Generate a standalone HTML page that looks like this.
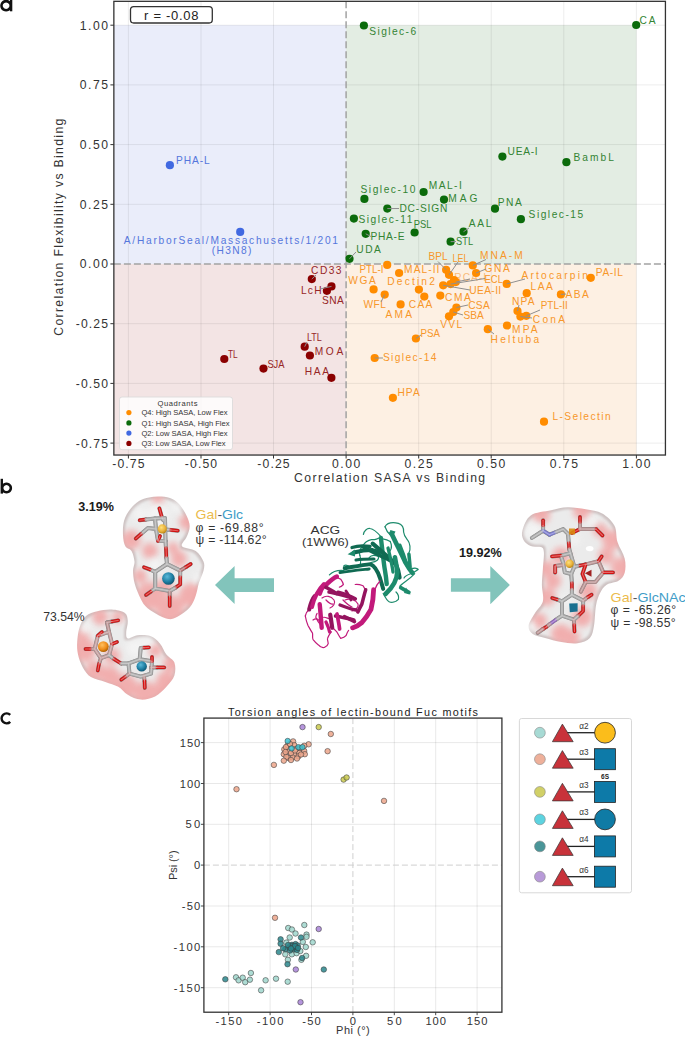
<!DOCTYPE html>
<html><head><meta charset="utf-8"><style>
html,body{margin:0;padding:0;background:#fff;width:685px;height:1038px;overflow:hidden}
svg{display:block}
text{font-family:"Liberation Sans",sans-serif}
</style></head><body>
<svg width="685" height="1038" viewBox="0 0 685 1038" font-family='"Liberation Sans", sans-serif'>
<rect width="685" height="1038" fill="#fff"/>
<rect x="113.86" y="25.20" width="232.24" height="238.80" fill="#eaedfa"/>
<rect x="346.10" y="25.20" width="290.30" height="238.80" fill="#e3ede3"/>
<rect x="113.86" y="264.00" width="232.24" height="191.04" fill="#f3e4e4"/>
<rect x="346.10" y="264.00" width="290.30" height="191.04" fill="#fdf0e3"/>
<line x1="128.4" y1="1.3" x2="128.4" y2="455.0" stroke="#000" stroke-width="0.9" stroke-opacity="0.085"/>
<line x1="113.9" y1="443.1" x2="665.4" y2="443.1" stroke="#000" stroke-width="0.9" stroke-opacity="0.085"/>
<line x1="201.0" y1="1.3" x2="201.0" y2="455.0" stroke="#000" stroke-width="0.9" stroke-opacity="0.085"/>
<line x1="113.9" y1="383.4" x2="665.4" y2="383.4" stroke="#000" stroke-width="0.9" stroke-opacity="0.085"/>
<line x1="273.5" y1="1.3" x2="273.5" y2="455.0" stroke="#000" stroke-width="0.9" stroke-opacity="0.085"/>
<line x1="113.9" y1="323.7" x2="665.4" y2="323.7" stroke="#000" stroke-width="0.9" stroke-opacity="0.085"/>
<line x1="418.7" y1="1.3" x2="418.7" y2="455.0" stroke="#000" stroke-width="0.9" stroke-opacity="0.085"/>
<line x1="113.9" y1="204.3" x2="665.4" y2="204.3" stroke="#000" stroke-width="0.9" stroke-opacity="0.085"/>
<line x1="491.2" y1="1.3" x2="491.2" y2="455.0" stroke="#000" stroke-width="0.9" stroke-opacity="0.085"/>
<line x1="113.9" y1="144.6" x2="665.4" y2="144.6" stroke="#000" stroke-width="0.9" stroke-opacity="0.085"/>
<line x1="563.8" y1="1.3" x2="563.8" y2="455.0" stroke="#000" stroke-width="0.9" stroke-opacity="0.085"/>
<line x1="113.9" y1="84.9" x2="665.4" y2="84.9" stroke="#000" stroke-width="0.9" stroke-opacity="0.085"/>
<line x1="636.4" y1="1.3" x2="636.4" y2="455.0" stroke="#000" stroke-width="0.9" stroke-opacity="0.085"/>
<line x1="113.9" y1="25.2" x2="665.4" y2="25.2" stroke="#000" stroke-width="0.9" stroke-opacity="0.085"/>
<line x1="346.1" y1="1.3" x2="346.1" y2="455.0" stroke="#a3a3a3" stroke-width="1.5" stroke-dasharray="7 3"/>
<line x1="113.9" y1="264.0" x2="665.4" y2="264.0" stroke="#a3a3a3" stroke-width="1.5" stroke-dasharray="7 3"/>
<text x="369.2" y="34.5" fill="#338433" font-size="10.2" textLength="46.9" lengthAdjust="spacing">Siglec-6</text>
<text x="639.5" y="23.8" fill="#338433" font-size="10.2" textLength="16.0" lengthAdjust="spacing">CA</text>
<text x="507.6" y="155.2" fill="#338433" font-size="10.2" textLength="30.1" lengthAdjust="spacing">UEA-I</text>
<text x="573.4" y="160.8" fill="#338433" font-size="10.2" textLength="40.6" lengthAdjust="spacing">BambL</text>
<text x="497.8" y="206.2" fill="#338433" font-size="10.2" textLength="24.0" lengthAdjust="spacing">PNA</text>
<text x="528.6" y="217.8" fill="#338433" font-size="10.2" textLength="54.6" lengthAdjust="spacing">Siglec-15</text>
<text x="360.5" y="192.5" fill="#338433" font-size="10.2" textLength="54.8" lengthAdjust="spacing">Siglec-10</text>
<text x="428.8" y="189.1" fill="#338433" font-size="10.2" textLength="33.0" lengthAdjust="spacing">MAL-I</text>
<text x="448.2" y="201.5" fill="#338433" font-size="10.2" textLength="29.3" lengthAdjust="spacing">MAG</text>
<text x="399.4" y="211.7" fill="#338433" font-size="10.2" textLength="47.9" lengthAdjust="spacing">DC-SIGN</text>
<text x="358.4" y="223.0" fill="#338433" font-size="10.2" textLength="54.0" lengthAdjust="spacing">Siglec-11</text>
<text x="370.5" y="240.1" fill="#338433" font-size="10.2" textLength="34.0" lengthAdjust="spacing">PHA-E</text>
<text x="413.8" y="227.8" fill="#338433" font-size="10.2" textLength="17.7" lengthAdjust="spacingAndGlyphs">PSL</text>
<text x="468.7" y="227.2" fill="#338433" font-size="10.2" textLength="22.8" lengthAdjust="spacing">AAL</text>
<text x="456.1" y="244.8" fill="#338433" font-size="10.2" textLength="17.0" lengthAdjust="spacingAndGlyphs">STL</text>
<text x="356.3" y="252.5" fill="#338433" font-size="10.2" textLength="24.5" lengthAdjust="spacing">UDA</text>
<circle cx="363.9" cy="25.5" r="4.1" fill="#0b6b0b"/>
<circle cx="636.2" cy="25.0" r="4.1" fill="#0b6b0b"/>
<circle cx="502.4" cy="156.6" r="4.1" fill="#0b6b0b"/>
<circle cx="566.4" cy="162.2" r="4.1" fill="#0b6b0b"/>
<circle cx="495.0" cy="208.7" r="4.1" fill="#0b6b0b"/>
<circle cx="520.9" cy="219.2" r="4.1" fill="#0b6b0b"/>
<circle cx="364.4" cy="198.9" r="4.1" fill="#0b6b0b"/>
<circle cx="423.6" cy="192.0" r="4.1" fill="#0b6b0b"/>
<circle cx="444.0" cy="199.6" r="4.1" fill="#0b6b0b"/>
<circle cx="387.3" cy="208.6" r="4.1" fill="#0b6b0b"/>
<circle cx="353.9" cy="218.6" r="4.1" fill="#0b6b0b"/>
<circle cx="365.7" cy="233.8" r="4.1" fill="#0b6b0b"/>
<circle cx="414.6" cy="232.5" r="4.1" fill="#0b6b0b"/>
<circle cx="463.5" cy="231.7" r="4.1" fill="#0b6b0b"/>
<circle cx="450.6" cy="241.7" r="4.1" fill="#0b6b0b"/>
<circle cx="349.5" cy="258.8" r="4.1" fill="#0b6b0b"/>
<text x="175.9" y="163.8" fill="#5576dc" font-size="10.2" textLength="33.8" lengthAdjust="spacing">PHA-L</text>
<text x="123.8" y="244.0" fill="#5576dc" font-size="10.2" textLength="214.2" lengthAdjust="spacing">A/HarborSeal/Massachusetts/1/201</text>
<text x="211.7" y="254.0" fill="#5576dc" font-size="10.2" textLength="39.6" lengthAdjust="spacing">(H3N8)</text>
<circle cx="169.9" cy="165.2" r="4.1" fill="#4169e1"/>
<circle cx="240.2" cy="231.9" r="4.1" fill="#4169e1"/>
<text x="311.1" y="274.0" fill="#972626" font-size="10.2" textLength="30.4" lengthAdjust="spacing">CD33</text>
<text x="300.9" y="294.4" fill="#972626" font-size="10.2" textLength="20.6" lengthAdjust="spacing">LcH</text>
<text x="322.0" y="303.9" fill="#972626" font-size="10.2" textLength="21.8" lengthAdjust="spacing">SNA</text>
<text x="228.0" y="357.7" fill="#972626" font-size="10.2" textLength="9.7" lengthAdjust="spacingAndGlyphs">TL</text>
<text x="267.4" y="367.5" fill="#972626" font-size="10.2" textLength="17.1" lengthAdjust="spacingAndGlyphs">SJA</text>
<text x="306.9" y="341.0" fill="#972626" font-size="10.2" textLength="14.9" lengthAdjust="spacingAndGlyphs">LTL</text>
<text x="314.7" y="355.0" fill="#972626" font-size="10.2" textLength="28.5" lengthAdjust="spacing">MOA</text>
<text x="304.7" y="374.7" fill="#972626" font-size="10.2" textLength="24.3" lengthAdjust="spacing">HAA</text>
<circle cx="311.8" cy="279.1" r="4.1" fill="#8b0000"/>
<circle cx="331.5" cy="286.4" r="4.1" fill="#8b0000"/>
<circle cx="326.9" cy="290.8" r="4.1" fill="#8b0000"/>
<circle cx="224.3" cy="359.0" r="4.1" fill="#8b0000"/>
<circle cx="263.5" cy="368.6" r="4.1" fill="#8b0000"/>
<circle cx="304.7" cy="346.7" r="4.1" fill="#8b0000"/>
<circle cx="309.9" cy="355.5" r="4.1" fill="#8b0000"/>
<circle cx="331.4" cy="377.8" r="4.1" fill="#8b0000"/>
<text x="359.6" y="273.4" fill="#f7972a" font-size="10.2" textLength="23.9" lengthAdjust="spacingAndGlyphs">PTL-I</text>
<text x="404.1" y="273.0" fill="#f7972a" font-size="10.2" textLength="35.3" lengthAdjust="spacing">MAL-II</text>
<text x="348.2" y="284.3" fill="#f7972a" font-size="10.2" textLength="27.7" lengthAdjust="spacing">WGA</text>
<text x="387.3" y="285.3" fill="#f7972a" font-size="10.2" textLength="47.5" lengthAdjust="spacing">Dectin2</text>
<text x="363.4" y="307.6" fill="#f7972a" font-size="10.2" textLength="22.5" lengthAdjust="spacing">WFL</text>
<text x="385.5" y="317.7" fill="#f7972a" font-size="10.2" textLength="26.6" lengthAdjust="spacing">AMA</text>
<text x="408.8" y="308.0" fill="#f7972a" font-size="10.2" textLength="23.6" lengthAdjust="spacing">CAA</text>
<text x="445.0" y="300.5" fill="#f7972a" font-size="10.2" textLength="25.9" lengthAdjust="spacing">CMA</text>
<text x="428.6" y="260.0" fill="#f7972a" font-size="10.2" textLength="19.0" lengthAdjust="spacingAndGlyphs">BPL</text>
<text x="452.6" y="261.7" fill="#f7972a" font-size="10.2" textLength="16.0" lengthAdjust="spacingAndGlyphs">LEL</text>
<text x="454.3" y="280.6" fill="#f9bb7a" font-size="10.2" textLength="31.9" lengthAdjust="spacing">RCA-I</text>
<text x="484.5" y="283.3" fill="#f7972a" font-size="10.2" textLength="18.4" lengthAdjust="spacingAndGlyphs">ECL</text>
<text x="469.3" y="293.5" fill="#f7972a" font-size="10.2" textLength="31.9" lengthAdjust="spacing">UEA-II</text>
<text x="479.9" y="259.0" fill="#f7972a" font-size="10.2" textLength="42.9" lengthAdjust="spacing">MNA-M</text>
<text x="484.5" y="271.6" fill="#f7972a" font-size="10.2" textLength="25.4" lengthAdjust="spacing">GNA</text>
<text x="521.4" y="278.6" fill="#f7972a" font-size="10.2" textLength="66.4" lengthAdjust="spacing">Artocarpin</text>
<text x="595.8" y="276.1" fill="#f7972a" font-size="10.2" textLength="27.1" lengthAdjust="spacing">PA-IL</text>
<text x="530.5" y="290.4" fill="#f7972a" font-size="10.2" textLength="22.2" lengthAdjust="spacing">LAA</text>
<text x="565.4" y="297.8" fill="#f7972a" font-size="10.2" textLength="23.3" lengthAdjust="spacing">ABA</text>
<text x="511.9" y="305.0" fill="#f7972a" font-size="10.2" textLength="22.7" lengthAdjust="spacing">NPA</text>
<text x="540.7" y="308.6" fill="#f7972a" font-size="10.2" textLength="27.1" lengthAdjust="spacingAndGlyphs">PTL-II</text>
<text x="532.8" y="322.6" fill="#f7972a" font-size="10.2" textLength="32.2" lengthAdjust="spacing">ConA</text>
<text x="468.2" y="308.9" fill="#f7972a" font-size="10.2" textLength="21.5" lengthAdjust="spacing">CSA</text>
<text x="463.5" y="319.2" fill="#f7972a" font-size="10.2" textLength="20.3" lengthAdjust="spacingAndGlyphs">SBA</text>
<text x="440.2" y="328.0" fill="#f7972a" font-size="10.2" textLength="21.9" lengthAdjust="spacing">VVL</text>
<text x="420.6" y="337.4" fill="#f7972a" font-size="10.2" textLength="19.5" lengthAdjust="spacingAndGlyphs">PSA</text>
<text x="490.6" y="343.2" fill="#f7972a" font-size="10.2" textLength="48.6" lengthAdjust="spacing">Heltuba</text>
<text x="512.1" y="333.4" fill="#f7972a" font-size="10.2" textLength="25.5" lengthAdjust="spacing">MPA</text>
<text x="382.9" y="361.0" fill="#f7972a" font-size="10.2" textLength="53.5" lengthAdjust="spacing">Siglec-14</text>
<text x="397.5" y="396.0" fill="#f7972a" font-size="10.2" textLength="22.2" lengthAdjust="spacing">HPA</text>
<text x="552.4" y="420.1" fill="#f7972a" font-size="10.2" textLength="58.2" lengthAdjust="spacing">L-Selectin</text>
<circle cx="387.2" cy="264.9" r="4.1" fill="#ff8c00"/>
<circle cx="399.1" cy="273.0" r="4.1" fill="#ff8c00"/>
<circle cx="373.6" cy="289.4" r="4.1" fill="#ff8c00"/>
<circle cx="418.9" cy="289.6" r="4.1" fill="#ff8c00"/>
<circle cx="384.7" cy="294.6" r="4.1" fill="#ff8c00"/>
<circle cx="400.6" cy="304.4" r="4.1" fill="#ff8c00"/>
<circle cx="424.3" cy="296.6" r="4.1" fill="#ff8c00"/>
<circle cx="440.3" cy="295.6" r="4.1" fill="#ff8c00"/>
<circle cx="446.1" cy="269.8" r="4.1" fill="#ff8c00"/>
<circle cx="449.0" cy="274.8" r="4.1" fill="#ff8c00"/>
<circle cx="455.8" cy="282.1" r="4.1" fill="#ff8c00"/>
<circle cx="454.0" cy="280.0" r="4.1" fill="#ff8c00"/>
<circle cx="450.6" cy="284.1" r="4.1" fill="#ff8c00"/>
<circle cx="443.2" cy="285.3" r="4.1" fill="#ff8c00"/>
<circle cx="472.8" cy="265.4" r="4.1" fill="#ff8c00"/>
<circle cx="476.1" cy="273.0" r="4.1" fill="#ff8c00"/>
<circle cx="506.7" cy="283.9" r="4.1" fill="#ff8c00"/>
<circle cx="590.8" cy="277.8" r="4.1" fill="#ff8c00"/>
<circle cx="526.7" cy="293.2" r="4.1" fill="#ff8c00"/>
<circle cx="560.9" cy="294.4" r="4.1" fill="#ff8c00"/>
<circle cx="517.5" cy="311.0" r="4.1" fill="#ff8c00"/>
<circle cx="526.3" cy="315.8" r="4.1" fill="#ff8c00"/>
<circle cx="520.4" cy="316.6" r="4.1" fill="#ff8c00"/>
<circle cx="456.4" cy="307.5" r="4.1" fill="#ff8c00"/>
<circle cx="453.3" cy="312.0" r="4.1" fill="#ff8c00"/>
<circle cx="449.0" cy="316.3" r="4.1" fill="#ff8c00"/>
<circle cx="415.9" cy="338.5" r="4.1" fill="#ff8c00"/>
<circle cx="487.8" cy="329.2" r="4.1" fill="#ff8c00"/>
<circle cx="507.0" cy="325.5" r="4.1" fill="#ff8c00"/>
<circle cx="374.7" cy="358.0" r="4.1" fill="#ff8c00"/>
<circle cx="392.9" cy="397.8" r="4.1" fill="#ff8c00"/>
<circle cx="544.0" cy="421.7" r="4.1" fill="#ff8c00"/>
<line x1="349.5" y1="258.8" x2="356.0" y2="252.0" stroke="#8f8f8f" stroke-width="1.0"/>
<line x1="387.3" y1="208.6" x2="399.0" y2="208.5" stroke="#8f8f8f" stroke-width="1.0"/>
<line x1="365.7" y1="233.8" x2="371.0" y2="236.5" stroke="#8f8f8f" stroke-width="1.0"/>
<line x1="463.5" y1="231.7" x2="469.0" y2="228.0" stroke="#8f8f8f" stroke-width="1.0"/>
<line x1="450.6" y1="241.7" x2="456.0" y2="241.5" stroke="#8f8f8f" stroke-width="1.0"/>
<line x1="374.7" y1="358.0" x2="383.0" y2="358.0" stroke="#8f8f8f" stroke-width="1.0"/>
<line x1="487.8" y1="329.2" x2="494.0" y2="334.0" stroke="#8f8f8f" stroke-width="1.0"/>
<line x1="446.1" y1="269.8" x2="438.0" y2="261.5" stroke="#8f8f8f" stroke-width="1.0"/>
<line x1="449.0" y1="274.8" x2="458.0" y2="262.0" stroke="#8f8f8f" stroke-width="1.0"/>
<line x1="455.8" y1="282.1" x2="470.0" y2="279.0" stroke="#8f8f8f" stroke-width="1.0"/>
<line x1="450.6" y1="284.1" x2="485.0" y2="278.5" stroke="#8f8f8f" stroke-width="1.0"/>
<line x1="443.2" y1="285.3" x2="470.0" y2="290.0" stroke="#8f8f8f" stroke-width="1.0"/>
<line x1="472.8" y1="265.4" x2="486.0" y2="259.5" stroke="#8f8f8f" stroke-width="1.0"/>
<line x1="476.1" y1="273.0" x2="486.0" y2="269.0" stroke="#8f8f8f" stroke-width="1.0"/>
<line x1="506.7" y1="283.9" x2="525.0" y2="279.0" stroke="#8f8f8f" stroke-width="1.0"/>
<line x1="456.4" y1="307.5" x2="468.0" y2="305.0" stroke="#8f8f8f" stroke-width="1.0"/>
<line x1="453.3" y1="312.0" x2="463.0" y2="315.0" stroke="#8f8f8f" stroke-width="1.0"/>
<line x1="526.3" y1="315.8" x2="540.0" y2="310.0" stroke="#8f8f8f" stroke-width="1.0"/>
<line x1="520.4" y1="316.6" x2="532.0" y2="318.0" stroke="#8f8f8f" stroke-width="1.0"/>
<line x1="517.5" y1="311.0" x2="519.0" y2="305.0" stroke="#8f8f8f" stroke-width="1.0"/>
<line x1="384.7" y1="294.6" x2="381.0" y2="302.0" stroke="#8f8f8f" stroke-width="1.0"/>
<line x1="311.8" y1="279.1" x2="316.0" y2="275.0" stroke="#8f8f8f" stroke-width="1.0"/>
<line x1="331.5" y1="286.4" x2="320.0" y2="289.0" stroke="#8f8f8f" stroke-width="1.0"/>
<line x1="304.7" y1="346.7" x2="307.0" y2="342.0" stroke="#8f8f8f" stroke-width="1.0"/>
<line x1="560.9" y1="294.4" x2="566.0" y2="294.0" stroke="#8f8f8f" stroke-width="1.0"/>
<line x1="415.9" y1="338.5" x2="421.0" y2="335.0" stroke="#8f8f8f" stroke-width="1.0"/>
<rect x="130.5" y="6.6" width="81.8" height="16.4" rx="3.2" fill="#fff" stroke="#333" stroke-width="1.3"/>
<text x="144.1" y="19.5" font-size="13" fill="#222" textLength="54.4" lengthAdjust="spacing">r = -0.08</text>
<rect x="119.5" y="397" width="113" height="52.7" rx="2.5" fill="#fff" fill-opacity="0.8" stroke="#d8d8d8" stroke-width="0.8"/>
<text x="157.4" y="405.6" font-size="7.6" fill="#333" textLength="40.2" lengthAdjust="spacing">Quadrants</text>
<circle cx="128.9" cy="412.6" r="2.6" fill="#ff8c00"/>
<text x="141.5" y="415.3" font-size="7.6" fill="#333" textLength="86" lengthAdjust="spacing">Q4: High SASA, Low Flex</text>
<circle cx="128.9" cy="422.9" r="2.6" fill="#0b6b0b"/>
<text x="141.5" y="425.6" font-size="7.6" fill="#333" textLength="88" lengthAdjust="spacing">Q1: High SASA, High Flex</text>
<circle cx="128.9" cy="433.1" r="2.6" fill="#4169e1"/>
<text x="141.5" y="435.8" font-size="7.6" fill="#333" textLength="86" lengthAdjust="spacing">Q2: Low SASA, High Flex</text>
<circle cx="128.9" cy="443.4" r="2.6" fill="#8b0000"/>
<text x="141.5" y="446.1" font-size="7.6" fill="#333" textLength="84" lengthAdjust="spacing">Q3: Low SASA, Low Flex</text>
<rect x="113.86" y="1.32" width="551.57" height="453.72" fill="none" stroke="#333" stroke-width="1.3"/>
<line x1="128.4" y1="455.0" x2="128.4" y2="458.5" stroke="#333" stroke-width="1.0"/>
<line x1="110.4" y1="443.1" x2="113.9" y2="443.1" stroke="#333" stroke-width="1.0"/>
<text x="128.4" y="468.4" font-size="12.2" fill="#333" text-anchor="middle" textLength="32.3" lengthAdjust="spacing">-0.75</text>
<text x="108.0" y="447.5" font-size="12.2" fill="#333" text-anchor="end" textLength="32.3" lengthAdjust="spacing">-0.75</text>
<line x1="201.0" y1="455.0" x2="201.0" y2="458.5" stroke="#333" stroke-width="1.0"/>
<line x1="110.4" y1="383.4" x2="113.9" y2="383.4" stroke="#333" stroke-width="1.0"/>
<text x="201.0" y="468.4" font-size="12.2" fill="#333" text-anchor="middle" textLength="32.3" lengthAdjust="spacing">-0.50</text>
<text x="108.0" y="387.8" font-size="12.2" fill="#333" text-anchor="end" textLength="32.3" lengthAdjust="spacing">-0.50</text>
<line x1="273.5" y1="455.0" x2="273.5" y2="458.5" stroke="#333" stroke-width="1.0"/>
<line x1="110.4" y1="323.7" x2="113.9" y2="323.7" stroke="#333" stroke-width="1.0"/>
<text x="273.5" y="468.4" font-size="12.2" fill="#333" text-anchor="middle" textLength="32.3" lengthAdjust="spacing">-0.25</text>
<text x="108.0" y="328.1" font-size="12.2" fill="#333" text-anchor="end" textLength="32.3" lengthAdjust="spacing">-0.25</text>
<line x1="346.1" y1="455.0" x2="346.1" y2="458.5" stroke="#333" stroke-width="1.0"/>
<line x1="110.4" y1="264.0" x2="113.9" y2="264.0" stroke="#333" stroke-width="1.0"/>
<text x="346.1" y="468.4" font-size="12.2" fill="#333" text-anchor="middle" textLength="28.3" lengthAdjust="spacing">0.00</text>
<text x="108.0" y="268.4" font-size="12.2" fill="#333" text-anchor="end" textLength="28.3" lengthAdjust="spacing">0.00</text>
<line x1="418.7" y1="455.0" x2="418.7" y2="458.5" stroke="#333" stroke-width="1.0"/>
<line x1="110.4" y1="204.3" x2="113.9" y2="204.3" stroke="#333" stroke-width="1.0"/>
<text x="418.7" y="468.4" font-size="12.2" fill="#333" text-anchor="middle" textLength="28.3" lengthAdjust="spacing">0.25</text>
<text x="108.0" y="208.7" font-size="12.2" fill="#333" text-anchor="end" textLength="28.3" lengthAdjust="spacing">0.25</text>
<line x1="491.2" y1="455.0" x2="491.2" y2="458.5" stroke="#333" stroke-width="1.0"/>
<line x1="110.4" y1="144.6" x2="113.9" y2="144.6" stroke="#333" stroke-width="1.0"/>
<text x="491.2" y="468.4" font-size="12.2" fill="#333" text-anchor="middle" textLength="28.3" lengthAdjust="spacing">0.50</text>
<text x="108.0" y="149.0" font-size="12.2" fill="#333" text-anchor="end" textLength="28.3" lengthAdjust="spacing">0.50</text>
<line x1="563.8" y1="455.0" x2="563.8" y2="458.5" stroke="#333" stroke-width="1.0"/>
<line x1="110.4" y1="84.9" x2="113.9" y2="84.9" stroke="#333" stroke-width="1.0"/>
<text x="563.8" y="468.4" font-size="12.2" fill="#333" text-anchor="middle" textLength="28.3" lengthAdjust="spacing">0.75</text>
<text x="108.0" y="89.3" font-size="12.2" fill="#333" text-anchor="end" textLength="28.3" lengthAdjust="spacing">0.75</text>
<line x1="636.4" y1="455.0" x2="636.4" y2="458.5" stroke="#333" stroke-width="1.0"/>
<line x1="110.4" y1="25.2" x2="113.9" y2="25.2" stroke="#333" stroke-width="1.0"/>
<text x="636.4" y="468.4" font-size="12.2" fill="#333" text-anchor="middle" textLength="28.3" lengthAdjust="spacing">1.00</text>
<text x="108.0" y="29.6" font-size="12.2" fill="#333" text-anchor="end" textLength="28.3" lengthAdjust="spacing">1.00</text>
<text x="389.6" y="482.2" font-size="12.2" fill="#333" text-anchor="middle" textLength="191" lengthAdjust="spacing">Correlation SASA vs Binding</text>
<text transform="translate(63.2,227.2) rotate(-90)" x="0" y="0" font-size="12.2" fill="#333" text-anchor="middle" textLength="217" lengthAdjust="spacing">Correlation Flexibility vs Binding</text>
<g fill="#111"><path d="M6.1,-0.2 a5.9,5.9 0 1 0 0.01,0 z M6.1,2.4 a3.3,3.3 0 1 1 -0.01,0 z" fill-rule="evenodd"/><rect x="10.0" y="-1" width="2.3" height="12.3"/></g>
<g fill="#111"><rect x="0.6" y="478.8" width="2.4" height="14.8"/><path d="M6.5,482.4 a5.6,5.6 0 1 0 0.01,0 z M6.5,485 a3,3 0 1 1 -0.01,0 z" fill-rule="evenodd"/></g>
<path d="M10.2,714.9 A5,5 0 1 0 10.2,721.8" fill="none" stroke="#111" stroke-width="2.4"/>
<defs><filter id="bl3" x="-30%" y="-30%" width="160%" height="160%"><feGaussianBlur stdDeviation="3"/></filter><filter id="bl2" x="-30%" y="-30%" width="160%" height="160%"><feGaussianBlur stdDeviation="2"/></filter><filter id="ins" x="-30%" y="-30%" width="160%" height="160%"><feMorphology operator="erode" radius="2.2"/><feGaussianBlur stdDeviation="1.3"/></filter><filter id="bl1" x="-30%" y="-30%" width="160%" height="160%"><feGaussianBlur stdDeviation="0.7"/></filter><radialGradient id="gold" cx="0.4" cy="0.35" r="0.7"><stop offset="0" stop-color="#ffe07a"/><stop offset="0.6" stop-color="#e9b23a"/><stop offset="1" stop-color="#b07d10"/></radialGradient><radialGradient id="orng" cx="0.4" cy="0.35" r="0.7"><stop offset="0" stop-color="#ffc060"/><stop offset="0.6" stop-color="#ee8c1a"/><stop offset="1" stop-color="#a05a00"/></radialGradient><radialGradient id="teal" cx="0.4" cy="0.35" r="0.7"><stop offset="0" stop-color="#5ab8d8"/><stop offset="0.6" stop-color="#1f7fa3"/><stop offset="1" stop-color="#0e4f6a"/></radialGradient></defs>
<mask id="msk1" maskUnits="userSpaceOnUse" x="117" y="490.5" width="92.5" height="134.60000000000002"><path d="M159.0,496.5 C162.5,496.6 166.7,496.8 170.0,498.0 C173.3,499.2 176.2,501.1 179.0,504.0 C181.8,506.9 184.8,512.0 186.6,515.7 C188.4,519.4 189.7,522.8 189.7,526.4 C189.7,530.0 187.9,533.8 186.6,537.1 C185.3,540.4 180.5,544.0 182.0,546.3 C183.5,548.6 192.2,548.5 195.8,551.0 C199.4,553.5 202.2,558.3 203.5,561.6 C204.8,564.9 204.3,567.2 203.5,570.8 C202.7,574.4 200.2,579.0 198.9,583.1 C197.6,587.2 197.3,591.3 195.8,595.4 C194.3,599.5 192.8,604.0 189.7,607.6 C186.6,611.2 181.0,614.9 177.4,616.8 C173.8,618.7 171.8,619.6 168.2,619.1 C164.6,618.6 159.8,616.0 156.0,613.8 C152.2,611.6 148.1,609.2 145.3,606.1 C142.5,603.0 140.9,599.2 139.1,595.4 C137.3,591.6 135.5,587.2 134.5,583.1 C133.5,579.0 133.0,574.4 133.0,570.8 C133.0,567.2 134.8,564.9 134.5,561.6 C134.2,558.3 133.0,553.5 131.5,551.0 C130.0,548.5 126.7,548.9 125.3,546.3 C123.9,543.7 123.2,539.8 123.0,535.6 C122.8,531.4 122.8,525.4 124.0,521.0 C125.2,516.6 127.5,512.8 130.0,509.5 C132.5,506.2 135.8,503.0 139.0,501.0 C142.2,499.0 145.7,498.2 149.0,497.5 C152.3,496.8 155.5,496.4 159.0,496.5Z" fill="#fff" filter="url(#bl1)"/></mask><g mask="url(#msk1)"><rect x="117" y="490.5" width="92.5" height="134.60000000000002" fill="#cdc2c2"/><path d="M159.0,496.5 C162.5,496.6 166.7,496.8 170.0,498.0 C173.3,499.2 176.2,501.1 179.0,504.0 C181.8,506.9 184.8,512.0 186.6,515.7 C188.4,519.4 189.7,522.8 189.7,526.4 C189.7,530.0 187.9,533.8 186.6,537.1 C185.3,540.4 180.5,544.0 182.0,546.3 C183.5,548.6 192.2,548.5 195.8,551.0 C199.4,553.5 202.2,558.3 203.5,561.6 C204.8,564.9 204.3,567.2 203.5,570.8 C202.7,574.4 200.2,579.0 198.9,583.1 C197.6,587.2 197.3,591.3 195.8,595.4 C194.3,599.5 192.8,604.0 189.7,607.6 C186.6,611.2 181.0,614.9 177.4,616.8 C173.8,618.7 171.8,619.6 168.2,619.1 C164.6,618.6 159.8,616.0 156.0,613.8 C152.2,611.6 148.1,609.2 145.3,606.1 C142.5,603.0 140.9,599.2 139.1,595.4 C137.3,591.6 135.5,587.2 134.5,583.1 C133.5,579.0 133.0,574.4 133.0,570.8 C133.0,567.2 134.8,564.9 134.5,561.6 C134.2,558.3 133.0,553.5 131.5,551.0 C130.0,548.5 126.7,548.9 125.3,546.3 C123.9,543.7 123.2,539.8 123.0,535.6 C122.8,531.4 122.8,525.4 124.0,521.0 C125.2,516.6 127.5,512.8 130.0,509.5 C132.5,506.2 135.8,503.0 139.0,501.0 C142.2,499.0 145.7,498.2 149.0,497.5 C152.3,496.8 155.5,496.4 159.0,496.5Z" fill="#ebebeb" filter="url(#ins)"/><g filter="url(#bl3)" opacity="0.9"><circle cx="131" cy="540" r="10" fill="#f2a8a8"/><circle cx="150" cy="551" r="8" fill="#f2a8a8"/><circle cx="187" cy="522" r="8" fill="#f2a8a8"/><circle cx="158" cy="499" r="6" fill="#f2a8a8"/><circle cx="173" cy="548" r="6" fill="#f2a8a8"/><circle cx="150" cy="596" r="14" fill="#f2a8a8"/><circle cx="170" cy="609" r="14" fill="#f2a8a8"/><circle cx="191" cy="595" r="12" fill="#f2a8a8"/><circle cx="179" cy="559" r="8" fill="#f2a8a8"/><circle cx="140" cy="576" r="7" fill="#f2a8a8"/><circle cx="165" cy="586" r="8" fill="#f2a8a8"/></g><g filter="url(#bl3)" opacity="0.9"><circle cx="158" cy="515" r="11" fill="#f4f4f4"/><circle cx="140" cy="514" r="7" fill="#f4f4f4"/><circle cx="177" cy="507" r="6" fill="#f4f4f4"/><circle cx="155" cy="565" r="7" fill="#f4f4f4"/><circle cx="198" cy="578" r="5" fill="#f4f4f4"/></g></g>
<g stroke-linecap="round" stroke-linejoin="round" fill="none"><path d="M159.4,508.4 L162,517.6" stroke="#808080" stroke-width="4.0"/><path d="M162,517.6 L163.4,520.2" stroke="#808080" stroke-width="4.0"/><path d="M139.7,520.2 L146,519.5" stroke="#808080" stroke-width="4.0"/><path d="M146,519.5 L155,518.5 L165,518 L165.5,541" stroke="#808080" stroke-width="4.0"/><path d="M155,518.5 L156,529 L158,541 L165.5,541" stroke="#808080" stroke-width="4.0"/><path d="M156,529 L148,528 L141,534" stroke="#808080" stroke-width="4.0"/><path d="M141,534 L135.8,538.6" stroke="#808080" stroke-width="4.0"/><path d="M165.5,529.4 L171,530" stroke="#808080" stroke-width="4.0"/><path d="M171,530 L177.8,530.7" stroke="#808080" stroke-width="4.0"/><path d="M158,541 L160,536" stroke="#808080" stroke-width="4.0"/><path d="M165.5,541 L166,548" stroke="#808080" stroke-width="4.0"/><path d="M166,548 L166.4,558" stroke="#808080" stroke-width="4.0"/><path d="M166.4,558 L167,564" stroke="#808080" stroke-width="4.0"/><path d="M167,564 L180.2,570.6 L180.2,577" stroke="#808080" stroke-width="4.0"/><path d="M180.2,577 L180.2,584.4 L175,588" stroke="#808080" stroke-width="4.0"/><path d="M175,588 L169.7,591 L155.2,588.4 L155.2,571.9 L167,564" stroke="#808080" stroke-width="4.0"/><path d="M180.2,570.6 L186,567" stroke="#808080" stroke-width="4.0"/><path d="M186,567 L190.7,564" stroke="#808080" stroke-width="4.0"/><path d="M155.2,571.9 L150,569.5" stroke="#808080" stroke-width="4.0"/><path d="M150,569.5 L144,567.3" stroke="#808080" stroke-width="4.0"/><path d="M155.2,588.4 L151,591.5" stroke="#808080" stroke-width="4.0"/><path d="M151,591.5 L146,595" stroke="#808080" stroke-width="4.0"/><path d="M169.7,591 L169.7,597" stroke="#808080" stroke-width="4.0"/><path d="M169.7,597 L169.7,606" stroke="#808080" stroke-width="4.0"/><path d="M159.4,508.4 L162,517.6" stroke="#d40f0f" stroke-width="3.3"/><path d="M162,517.6 L163.4,520.2" stroke="#a9a9a9" stroke-width="3.3"/><path d="M139.7,520.2 L146,519.5" stroke="#d40f0f" stroke-width="3.3"/><path d="M146,519.5 L155,518.5 L165,518 L165.5,541" stroke="#a9a9a9" stroke-width="3.3"/><path d="M155,518.5 L156,529 L158,541 L165.5,541" stroke="#a9a9a9" stroke-width="3.3"/><path d="M156,529 L148,528 L141,534" stroke="#a9a9a9" stroke-width="3.3"/><path d="M141,534 L135.8,538.6" stroke="#d40f0f" stroke-width="3.3"/><path d="M165.5,529.4 L171,530" stroke="#a9a9a9" stroke-width="3.3"/><path d="M171,530 L177.8,530.7" stroke="#d40f0f" stroke-width="3.3"/><path d="M158,541 L160,536" stroke="#d40f0f" stroke-width="3.3"/><path d="M165.5,541 L166,548" stroke="#a9a9a9" stroke-width="3.3"/><path d="M166,548 L166.4,558" stroke="#d40f0f" stroke-width="3.3"/><path d="M166.4,558 L167,564" stroke="#a9a9a9" stroke-width="3.3"/><path d="M167,564 L180.2,570.6 L180.2,577" stroke="#a9a9a9" stroke-width="3.3"/><path d="M180.2,577 L180.2,584.4 L175,588" stroke="#d40f0f" stroke-width="3.3"/><path d="M175,588 L169.7,591 L155.2,588.4 L155.2,571.9 L167,564" stroke="#a9a9a9" stroke-width="3.3"/><path d="M180.2,570.6 L186,567" stroke="#b07070" stroke-width="3.3"/><path d="M186,567 L190.7,564" stroke="#d40f0f" stroke-width="3.3"/><path d="M155.2,571.9 L150,569.5" stroke="#a9a9a9" stroke-width="3.3"/><path d="M150,569.5 L144,567.3" stroke="#d40f0f" stroke-width="3.3"/><path d="M155.2,588.4 L151,591.5" stroke="#a9a9a9" stroke-width="3.3"/><path d="M151,591.5 L146,595" stroke="#d40f0f" stroke-width="3.3"/><path d="M169.7,591 L169.7,597" stroke="#b08888" stroke-width="3.3"/><path d="M169.7,597 L169.7,606" stroke="#d40f0f" stroke-width="3.3"/><path d="M159.4,508.4 L162,517.6" stroke="#e77b7b" stroke-width="1.15" stroke-opacity="0.8"/><path d="M162,517.6 L163.4,520.2" stroke="#cfcfcf" stroke-width="1.15" stroke-opacity="0.8"/><path d="M139.7,520.2 L146,519.5" stroke="#e77b7b" stroke-width="1.15" stroke-opacity="0.8"/><path d="M146,519.5 L155,518.5 L165,518 L165.5,541" stroke="#cfcfcf" stroke-width="1.15" stroke-opacity="0.8"/><path d="M155,518.5 L156,529 L158,541 L165.5,541" stroke="#cfcfcf" stroke-width="1.15" stroke-opacity="0.8"/><path d="M156,529 L148,528 L141,534" stroke="#cfcfcf" stroke-width="1.15" stroke-opacity="0.8"/><path d="M141,534 L135.8,538.6" stroke="#e77b7b" stroke-width="1.15" stroke-opacity="0.8"/><path d="M165.5,529.4 L171,530" stroke="#cfcfcf" stroke-width="1.15" stroke-opacity="0.8"/><path d="M171,530 L177.8,530.7" stroke="#e77b7b" stroke-width="1.15" stroke-opacity="0.8"/><path d="M158,541 L160,536" stroke="#e77b7b" stroke-width="1.15" stroke-opacity="0.8"/><path d="M165.5,541 L166,548" stroke="#cfcfcf" stroke-width="1.15" stroke-opacity="0.8"/><path d="M166,548 L166.4,558" stroke="#e77b7b" stroke-width="1.15" stroke-opacity="0.8"/><path d="M166.4,558 L167,564" stroke="#cfcfcf" stroke-width="1.15" stroke-opacity="0.8"/><path d="M167,564 L180.2,570.6 L180.2,577" stroke="#cfcfcf" stroke-width="1.15" stroke-opacity="0.8"/><path d="M180.2,577 L180.2,584.4 L175,588" stroke="#e77b7b" stroke-width="1.15" stroke-opacity="0.8"/><path d="M175,588 L169.7,591 L155.2,588.4 L155.2,571.9 L167,564" stroke="#cfcfcf" stroke-width="1.15" stroke-opacity="0.8"/><path d="M180.2,570.6 L186,567" stroke="#d3b0b0" stroke-width="1.15" stroke-opacity="0.8"/><path d="M186,567 L190.7,564" stroke="#e77b7b" stroke-width="1.15" stroke-opacity="0.8"/><path d="M155.2,571.9 L150,569.5" stroke="#cfcfcf" stroke-width="1.15" stroke-opacity="0.8"/><path d="M150,569.5 L144,567.3" stroke="#e77b7b" stroke-width="1.15" stroke-opacity="0.8"/><path d="M155.2,588.4 L151,591.5" stroke="#cfcfcf" stroke-width="1.15" stroke-opacity="0.8"/><path d="M151,591.5 L146,595" stroke="#e77b7b" stroke-width="1.15" stroke-opacity="0.8"/><path d="M169.7,591 L169.7,597" stroke="#d3bdbd" stroke-width="1.15" stroke-opacity="0.8"/><path d="M169.7,597 L169.7,606" stroke="#e77b7b" stroke-width="1.15" stroke-opacity="0.8"/></g>
<circle cx="162.3" cy="528.9" r="4.6" fill="url(#gold)"/>
<circle cx="168.4" cy="578.5" r="6.3" fill="url(#teal)"/>
<mask id="msk2" maskUnits="userSpaceOnUse" x="71.2" y="603.6" width="109.2" height="102.0"><path d="M86.0,616.0 C89.0,613.3 93.0,612.3 97.3,611.2 C101.6,610.1 107.2,609.3 111.8,609.6 C116.3,609.9 121.9,610.9 124.6,612.8 C127.3,614.7 127.5,617.7 127.8,620.9 C128.1,624.1 126.2,629.2 126.2,632.1 C126.2,635.0 125.9,638.0 127.8,638.5 C129.7,639.0 133.7,635.7 137.4,635.3 C141.2,634.9 146.6,634.8 150.3,636.1 C154.1,637.5 157.2,640.3 159.9,643.4 C162.6,646.5 164.0,651.4 166.4,654.6 C168.8,657.8 173.1,659.1 174.4,662.6 C175.7,666.1 175.7,671.5 174.4,675.5 C173.1,679.5 169.6,683.2 166.4,686.7 C163.2,690.2 159.4,694.2 155.1,696.4 C150.8,698.5 145.2,699.9 140.7,699.6 C136.1,699.3 131.5,696.9 127.8,694.7 C124.0,692.6 122.0,688.8 118.2,686.7 C114.5,684.6 109.8,683.5 105.3,681.9 C100.8,680.3 94.7,679.5 90.9,677.1 C87.2,674.7 85.0,671.1 82.8,667.4 C80.6,663.6 78.9,658.9 78.0,654.6 C77.1,650.3 76.9,646.3 77.2,641.8 C77.5,637.2 78.1,631.6 79.6,627.3 C81.1,623.0 83.0,618.7 86.0,616.0Z" fill="#fff" filter="url(#bl1)"/></mask><g mask="url(#msk2)"><rect x="71.2" y="603.6" width="109.2" height="102.0" fill="#cdc2c2"/><path d="M86.0,616.0 C89.0,613.3 93.0,612.3 97.3,611.2 C101.6,610.1 107.2,609.3 111.8,609.6 C116.3,609.9 121.9,610.9 124.6,612.8 C127.3,614.7 127.5,617.7 127.8,620.9 C128.1,624.1 126.2,629.2 126.2,632.1 C126.2,635.0 125.9,638.0 127.8,638.5 C129.7,639.0 133.7,635.7 137.4,635.3 C141.2,634.9 146.6,634.8 150.3,636.1 C154.1,637.5 157.2,640.3 159.9,643.4 C162.6,646.5 164.0,651.4 166.4,654.6 C168.8,657.8 173.1,659.1 174.4,662.6 C175.7,666.1 175.7,671.5 174.4,675.5 C173.1,679.5 169.6,683.2 166.4,686.7 C163.2,690.2 159.4,694.2 155.1,696.4 C150.8,698.5 145.2,699.9 140.7,699.6 C136.1,699.3 131.5,696.9 127.8,694.7 C124.0,692.6 122.0,688.8 118.2,686.7 C114.5,684.6 109.8,683.5 105.3,681.9 C100.8,680.3 94.7,679.5 90.9,677.1 C87.2,674.7 85.0,671.1 82.8,667.4 C80.6,663.6 78.9,658.9 78.0,654.6 C77.1,650.3 76.9,646.3 77.2,641.8 C77.5,637.2 78.1,631.6 79.6,627.3 C81.1,623.0 83.0,618.7 86.0,616.0Z" fill="#ebebeb" filter="url(#ins)"/><g filter="url(#bl3)" opacity="0.9"><circle cx="84" cy="650" r="12" fill="#f2a8a8"/><circle cx="95" cy="671" r="10" fill="#f2a8a8"/><circle cx="110" cy="676" r="10" fill="#f2a8a8"/><circle cx="125" cy="686" r="12" fill="#f2a8a8"/><circle cx="145" cy="693" r="12" fill="#f2a8a8"/><circle cx="166" cy="681" r="10" fill="#f2a8a8"/><circle cx="171" cy="664" r="8" fill="#f2a8a8"/><circle cx="100" cy="617" r="8" fill="#f2a8a8"/><circle cx="118" cy="617" r="6" fill="#f2a8a8"/><circle cx="112" cy="656" r="8" fill="#f2a8a8"/><circle cx="82" cy="635" r="7" fill="#f2a8a8"/><circle cx="155" cy="650" r="7" fill="#f2a8a8"/><circle cx="160" cy="690" r="8" fill="#f2a8a8"/></g><g filter="url(#bl3)" opacity="0.9"><circle cx="135" cy="648" r="9" fill="#f4f4f4"/><circle cx="148" cy="642" r="6" fill="#f4f4f4"/><circle cx="86" cy="628" r="6" fill="#f4f4f4"/></g></g>
<g stroke-linecap="round" stroke-linejoin="round" fill="none"><path d="M107,622.5 L112,621.5" stroke="#808080" stroke-width="4.0"/><path d="M112,621.5 L118.2,620.4" stroke="#808080" stroke-width="4.0"/><path d="M97.8,635.8 L109,631.7 L112.1,644 L109,655.2 L100.9,658.2 L94.7,649 L97.8,635.8" stroke="#808080" stroke-width="4.0"/><path d="M109,631.7 L107,622.5" stroke="#808080" stroke-width="4.0"/><path d="M94.7,649 L90,649" stroke="#808080" stroke-width="4.0"/><path d="M90,649 L85.5,649" stroke="#808080" stroke-width="4.0"/><path d="M100.9,658.2 L99,664" stroke="#808080" stroke-width="4.0"/><path d="M99,664 L97.8,670.5" stroke="#808080" stroke-width="4.0"/><path d="M109,655.2 L114,659" stroke="#808080" stroke-width="4.0"/><path d="M114,659 L121,663.4" stroke="#808080" stroke-width="4.0"/><path d="M121,663.4 L128.5,663.4" stroke="#808080" stroke-width="4.0"/><path d="M128.5,663.4 L139.7,659.3 L152,661.3 L151,673.6 L140.7,676.6 L129.5,673.6 L128.5,663.4" stroke="#808080" stroke-width="4.0"/><path d="M139.7,659.3 L140.7,648 L144,647.7" stroke="#808080" stroke-width="4.0"/><path d="M144,647.7 L148.9,647.4" stroke="#808080" stroke-width="4.0"/><path d="M152,661.3 L152,657" stroke="#808080" stroke-width="4.0"/><path d="M151,667.4 L157,667.4" stroke="#808080" stroke-width="4.0"/><path d="M157,667.4 L164.2,667.4" stroke="#808080" stroke-width="4.0"/><path d="M129.5,673.6 L125,677" stroke="#808080" stroke-width="4.0"/><path d="M125,677 L121.3,679.7" stroke="#808080" stroke-width="4.0"/><path d="M144,676 L144.5,681" stroke="#808080" stroke-width="4.0"/><path d="M144.5,681 L144.8,687.9" stroke="#808080" stroke-width="4.0"/><path d="M112.1,644 L117,642" stroke="#808080" stroke-width="4.0"/><path d="M97.8,635.8 L102,632" stroke="#808080" stroke-width="4.0"/><path d="M107,622.5 L112,621.5" stroke="#b89090" stroke-width="3.3"/><path d="M112,621.5 L118.2,620.4" stroke="#d40f0f" stroke-width="3.3"/><path d="M97.8,635.8 L109,631.7 L112.1,644 L109,655.2 L100.9,658.2 L94.7,649 L97.8,635.8" stroke="#c09a9a" stroke-width="3.3"/><path d="M109,631.7 L107,622.5" stroke="#b89090" stroke-width="3.3"/><path d="M94.7,649 L90,649" stroke="#b89090" stroke-width="3.3"/><path d="M90,649 L85.5,649" stroke="#d40f0f" stroke-width="3.3"/><path d="M100.9,658.2 L99,664" stroke="#b89090" stroke-width="3.3"/><path d="M99,664 L97.8,670.5" stroke="#d40f0f" stroke-width="3.3"/><path d="M109,655.2 L114,659" stroke="#a9a9a9" stroke-width="3.3"/><path d="M114,659 L121,663.4" stroke="#d40f0f" stroke-width="3.3"/><path d="M121,663.4 L128.5,663.4" stroke="#a9a9a9" stroke-width="3.3"/><path d="M128.5,663.4 L139.7,659.3 L152,661.3 L151,673.6 L140.7,676.6 L129.5,673.6 L128.5,663.4" stroke="#a9a9a9" stroke-width="3.3"/><path d="M139.7,659.3 L140.7,648 L144,647.7" stroke="#a9a9a9" stroke-width="3.3"/><path d="M144,647.7 L148.9,647.4" stroke="#d40f0f" stroke-width="3.3"/><path d="M152,661.3 L152,657" stroke="#d40f0f" stroke-width="3.3"/><path d="M151,667.4 L157,667.4" stroke="#b89090" stroke-width="3.3"/><path d="M157,667.4 L164.2,667.4" stroke="#d40f0f" stroke-width="3.3"/><path d="M129.5,673.6 L125,677" stroke="#b89090" stroke-width="3.3"/><path d="M125,677 L121.3,679.7" stroke="#d40f0f" stroke-width="3.3"/><path d="M144,676 L144.5,681" stroke="#b89090" stroke-width="3.3"/><path d="M144.5,681 L144.8,687.9" stroke="#d40f0f" stroke-width="3.3"/><path d="M112.1,644 L117,642" stroke="#d40f0f" stroke-width="3.3"/><path d="M97.8,635.8 L102,632" stroke="#d40f0f" stroke-width="3.3"/><path d="M107,622.5 L112,621.5" stroke="#d7c1c1" stroke-width="1.15" stroke-opacity="0.8"/><path d="M112,621.5 L118.2,620.4" stroke="#e77b7b" stroke-width="1.15" stroke-opacity="0.8"/><path d="M97.8,635.8 L109,631.7 L112.1,644 L109,655.2 L100.9,658.2 L94.7,649 L97.8,635.8" stroke="#dcc7c7" stroke-width="1.15" stroke-opacity="0.8"/><path d="M109,631.7 L107,622.5" stroke="#d7c1c1" stroke-width="1.15" stroke-opacity="0.8"/><path d="M94.7,649 L90,649" stroke="#d7c1c1" stroke-width="1.15" stroke-opacity="0.8"/><path d="M90,649 L85.5,649" stroke="#e77b7b" stroke-width="1.15" stroke-opacity="0.8"/><path d="M100.9,658.2 L99,664" stroke="#d7c1c1" stroke-width="1.15" stroke-opacity="0.8"/><path d="M99,664 L97.8,670.5" stroke="#e77b7b" stroke-width="1.15" stroke-opacity="0.8"/><path d="M109,655.2 L114,659" stroke="#cfcfcf" stroke-width="1.15" stroke-opacity="0.8"/><path d="M114,659 L121,663.4" stroke="#e77b7b" stroke-width="1.15" stroke-opacity="0.8"/><path d="M121,663.4 L128.5,663.4" stroke="#cfcfcf" stroke-width="1.15" stroke-opacity="0.8"/><path d="M128.5,663.4 L139.7,659.3 L152,661.3 L151,673.6 L140.7,676.6 L129.5,673.6 L128.5,663.4" stroke="#cfcfcf" stroke-width="1.15" stroke-opacity="0.8"/><path d="M139.7,659.3 L140.7,648 L144,647.7" stroke="#cfcfcf" stroke-width="1.15" stroke-opacity="0.8"/><path d="M144,647.7 L148.9,647.4" stroke="#e77b7b" stroke-width="1.15" stroke-opacity="0.8"/><path d="M152,661.3 L152,657" stroke="#e77b7b" stroke-width="1.15" stroke-opacity="0.8"/><path d="M151,667.4 L157,667.4" stroke="#d7c1c1" stroke-width="1.15" stroke-opacity="0.8"/><path d="M157,667.4 L164.2,667.4" stroke="#e77b7b" stroke-width="1.15" stroke-opacity="0.8"/><path d="M129.5,673.6 L125,677" stroke="#d7c1c1" stroke-width="1.15" stroke-opacity="0.8"/><path d="M125,677 L121.3,679.7" stroke="#e77b7b" stroke-width="1.15" stroke-opacity="0.8"/><path d="M144,676 L144.5,681" stroke="#d7c1c1" stroke-width="1.15" stroke-opacity="0.8"/><path d="M144.5,681 L144.8,687.9" stroke="#e77b7b" stroke-width="1.15" stroke-opacity="0.8"/><path d="M112.1,644 L117,642" stroke="#e77b7b" stroke-width="1.15" stroke-opacity="0.8"/><path d="M97.8,635.8 L102,632" stroke="#e77b7b" stroke-width="1.15" stroke-opacity="0.8"/></g>
<circle cx="103.3" cy="646.6" r="5.4" fill="url(#orng)"/>
<circle cx="141.7" cy="666.4" r="5.2" fill="url(#teal)"/>
<mask id="msk3" maskUnits="userSpaceOnUse" x="516.5" y="501.3" width="114.20000000000005" height="147.90000000000003"><path d="M522.5,530.0 C523.7,525.9 526.0,518.7 530.7,515.4 C535.5,512.1 544.9,511.6 551.0,510.3 C557.1,509.0 561.6,507.5 567.4,507.3 C573.2,507.1 580.0,508.3 585.8,509.3 C591.6,510.3 597.4,510.7 602.2,513.4 C607.0,516.1 612.0,520.9 614.5,525.7 C617.0,530.5 615.8,536.5 617.5,542.0 C619.2,547.5 623.5,553.3 624.7,558.4 C625.9,563.5 625.7,569.0 624.7,572.7 C623.7,576.4 621.6,578.8 618.5,580.8 C615.4,582.8 609.4,582.8 606.3,584.9 C603.2,587.0 601.8,589.7 600.1,593.1 C598.4,596.5 597.0,600.0 596.0,605.4 C595.0,610.8 595.0,620.4 594.0,625.8 C593.0,631.2 592.6,635.1 589.9,638.0 C587.2,640.9 582.5,642.5 577.7,643.2 C572.9,643.9 566.8,643.0 561.3,642.1 C555.8,641.2 549.8,639.4 545.0,638.0 C540.2,636.6 535.4,636.0 532.7,634.0 C530.0,632.0 528.3,629.2 528.6,625.8 C528.9,622.4 532.3,617.6 534.7,613.5 C537.1,609.4 541.7,606.1 542.9,601.3 C544.1,596.5 541.9,590.3 541.9,584.9 C541.9,579.5 542.6,574.0 542.9,568.6 C543.2,563.2 544.2,555.8 543.9,552.2 C543.6,548.6 543.1,548.1 540.9,547.1 C538.7,546.1 533.6,547.3 530.7,546.1 C527.8,544.9 524.9,542.7 523.5,540.0 C522.1,537.3 521.3,534.1 522.5,530.0Z" fill="#fff" filter="url(#bl1)"/></mask><g mask="url(#msk3)"><rect x="516.5" y="501.3" width="114.20000000000005" height="147.90000000000003" fill="#cdc2c2"/><path d="M522.5,530.0 C523.7,525.9 526.0,518.7 530.7,515.4 C535.5,512.1 544.9,511.6 551.0,510.3 C557.1,509.0 561.6,507.5 567.4,507.3 C573.2,507.1 580.0,508.3 585.8,509.3 C591.6,510.3 597.4,510.7 602.2,513.4 C607.0,516.1 612.0,520.9 614.5,525.7 C617.0,530.5 615.8,536.5 617.5,542.0 C619.2,547.5 623.5,553.3 624.7,558.4 C625.9,563.5 625.7,569.0 624.7,572.7 C623.7,576.4 621.6,578.8 618.5,580.8 C615.4,582.8 609.4,582.8 606.3,584.9 C603.2,587.0 601.8,589.7 600.1,593.1 C598.4,596.5 597.0,600.0 596.0,605.4 C595.0,610.8 595.0,620.4 594.0,625.8 C593.0,631.2 592.6,635.1 589.9,638.0 C587.2,640.9 582.5,642.5 577.7,643.2 C572.9,643.9 566.8,643.0 561.3,642.1 C555.8,641.2 549.8,639.4 545.0,638.0 C540.2,636.6 535.4,636.0 532.7,634.0 C530.0,632.0 528.3,629.2 528.6,625.8 C528.9,622.4 532.3,617.6 534.7,613.5 C537.1,609.4 541.7,606.1 542.9,601.3 C544.1,596.5 541.9,590.3 541.9,584.9 C541.9,579.5 542.6,574.0 542.9,568.6 C543.2,563.2 544.2,555.8 543.9,552.2 C543.6,548.6 543.1,548.1 540.9,547.1 C538.7,546.1 533.6,547.3 530.7,546.1 C527.8,544.9 524.9,542.7 523.5,540.0 C522.1,537.3 521.3,534.1 522.5,530.0Z" fill="#ebebeb" filter="url(#ins)"/><g filter="url(#bl3)" opacity="0.9"><circle cx="541" cy="515" r="9" fill="#f2a8a8"/><circle cx="582" cy="511" r="9" fill="#f2a8a8"/><circle cx="612" cy="540" r="10" fill="#f2a8a8"/><circle cx="622" cy="568" r="11" fill="#f2a8a8"/><circle cx="606" cy="556" r="8" fill="#f2a8a8"/><circle cx="561" cy="556" r="9" fill="#f2a8a8"/><circle cx="547" cy="569" r="8" fill="#f2a8a8"/><circle cx="553" cy="581" r="8" fill="#f2a8a8"/><circle cx="547" cy="597" r="9" fill="#f2a8a8"/><circle cx="588" cy="591" r="9" fill="#f2a8a8"/><circle cx="582" cy="617" r="10" fill="#f2a8a8"/><circle cx="561" cy="634" r="10" fill="#f2a8a8"/><circle cx="539" cy="621" r="8" fill="#f2a8a8"/><circle cx="571" cy="638" r="9" fill="#f2a8a8"/><circle cx="600" cy="530" r="7" fill="#f2a8a8"/></g><g filter="url(#bl3)" opacity="0.9"><circle cx="533" cy="531" r="9" fill="#f4f4f4"/><circle cx="592" cy="521" r="5" fill="#f4f4f4"/><circle cx="575" cy="540" r="5" fill="#f4f4f4"/><circle cx="530" cy="627" r="6" fill="#f4f4f4"/><circle cx="566" cy="600" r="5" fill="#f4f4f4"/></g></g>
<ellipse cx="589.7" cy="548.6" rx="3.8" ry="2.6" fill="#fff" filter="url(#bl1)"/>
<g stroke-linecap="round" stroke-linejoin="round" fill="none"><path d="M531.9,537.9 L543.1,530.7" stroke="#808080" stroke-width="4.0"/><path d="M543.1,530.7 L543.1,525.5" stroke="#808080" stroke-width="4.0"/><path d="M543.1,525.5 L543.1,520.3" stroke="#808080" stroke-width="4.0"/><path d="M543.1,530.7 L549.5,534.7" stroke="#808080" stroke-width="4.0"/><path d="M549.5,534.7 L556,532" stroke="#808080" stroke-width="4.0"/><path d="M556,532 L563.2,529.1 L568,533.9" stroke="#808080" stroke-width="4.0"/><path d="M568,533.9 L568.8,543" stroke="#808080" stroke-width="4.0"/><path d="M568.8,543 L569.2,549" stroke="#808080" stroke-width="4.0"/><path d="M569.2,549 L570.4,553.2" stroke="#808080" stroke-width="4.0"/><path d="M572,533 L580,529" stroke="#808080" stroke-width="4.0"/><path d="M580,529 L580,522" stroke="#808080" stroke-width="4.0"/><path d="M580,522 L580,517" stroke="#808080" stroke-width="4.0"/><path d="M580,529 L596.1,529.1" stroke="#808080" stroke-width="4.0"/><path d="M596.1,529.1 L602.5,535.5" stroke="#808080" stroke-width="4.0"/><path d="M560.8,555.6 L570.4,553.2 L574.4,566.8 L571.2,574 L564.8,572.4 L563.2,562.8 L560.8,555.6" stroke="#808080" stroke-width="4.0"/><path d="M560.8,555.6 L552,556.4" stroke="#808080" stroke-width="4.0"/><path d="M563.2,565 L555.1,566 L555.1,572.4" stroke="#808080" stroke-width="4.0"/><path d="M555.1,566 L555.1,572.4" stroke="#808080" stroke-width="4.0"/><path d="M574.4,566.8 L580,565.5" stroke="#808080" stroke-width="4.0"/><path d="M580,565.5 L585.7,564.4" stroke="#808080" stroke-width="4.0"/><path d="M585.7,564.4 L598.5,561.2 L603.3,572.4 L595.3,582.1 L585.7,582.1" stroke="#808080" stroke-width="4.0"/><path d="M585.7,582.1 L582.4,574 L585.7,564.4" stroke="#808080" stroke-width="4.0"/><path d="M598.5,561.2 L601.7,556.4" stroke="#808080" stroke-width="4.0"/><path d="M603.3,572.4 L613,572.4" stroke="#808080" stroke-width="4.0"/><path d="M585.7,582.1 L580.8,591.7" stroke="#808080" stroke-width="4.0"/><path d="M571.2,574 L571.9,583" stroke="#808080" stroke-width="4.0"/><path d="M571.9,583 L571.9,589.5" stroke="#808080" stroke-width="4.0"/><path d="M571.9,589.5 L571.9,594.7" stroke="#808080" stroke-width="4.0"/><path d="M571.9,594.7 L583.1,600.6 L583.1,606" stroke="#808080" stroke-width="4.0"/><path d="M583.1,606 L583.1,611.1 L578,616" stroke="#808080" stroke-width="4.0"/><path d="M578,616 L573.9,619.7 L562,615.7 L562,601.3 L571.9,594.7" stroke="#808080" stroke-width="4.0"/><path d="M562,601.3 L557,599.5" stroke="#808080" stroke-width="4.0"/><path d="M557,599.5 L552.2,598" stroke="#808080" stroke-width="4.0"/><path d="M583.1,600.6 L588,597" stroke="#808080" stroke-width="4.0"/><path d="M588,597 L591.6,594.7" stroke="#808080" stroke-width="4.0"/><path d="M573.9,619.7 L574.2,625" stroke="#808080" stroke-width="4.0"/><path d="M574.2,625 L574.5,631.5" stroke="#808080" stroke-width="4.0"/><path d="M562,615.7 L555.5,620" stroke="#808080" stroke-width="4.0"/><path d="M555.5,620 L550,624" stroke="#808080" stroke-width="4.0"/><path d="M550,624 L546.3,626.9" stroke="#808080" stroke-width="4.0"/><path d="M546.3,626.9 L543,629" stroke="#808080" stroke-width="4.0"/><path d="M543,629 L537.7,632.8" stroke="#808080" stroke-width="4.0"/><path d="M531.9,537.9 L543.1,530.7" stroke="#a9a9a9" stroke-width="3.3"/><path d="M543.1,530.7 L543.1,525.5" stroke="#a9a9a9" stroke-width="3.3"/><path d="M543.1,525.5 L543.1,520.3" stroke="#d40f0f" stroke-width="3.3"/><path d="M543.1,530.7 L549.5,534.7" stroke="#7a7ad0" stroke-width="3.3"/><path d="M549.5,534.7 L556,532" stroke="#7a7ad0" stroke-width="3.3"/><path d="M556,532 L563.2,529.1 L568,533.9" stroke="#a9a9a9" stroke-width="3.3"/><path d="M568,533.9 L568.8,543" stroke="#a9a9a9" stroke-width="3.3"/><path d="M568.8,543 L569.2,549" stroke="#d40f0f" stroke-width="3.3"/><path d="M569.2,549 L570.4,553.2" stroke="#a9a9a9" stroke-width="3.3"/><path d="M572,533 L580,529" stroke="#d40f0f" stroke-width="3.3"/><path d="M580,529 L580,522" stroke="#b89090" stroke-width="3.3"/><path d="M580,522 L580,517" stroke="#d40f0f" stroke-width="3.3"/><path d="M580,529 L596.1,529.1" stroke="#b89090" stroke-width="3.3"/><path d="M596.1,529.1 L602.5,535.5" stroke="#d40f0f" stroke-width="3.3"/><path d="M560.8,555.6 L570.4,553.2 L574.4,566.8 L571.2,574 L564.8,572.4 L563.2,562.8 L560.8,555.6" stroke="#a9a9a9" stroke-width="3.3"/><path d="M560.8,555.6 L552,556.4" stroke="#d40f0f" stroke-width="3.3"/><path d="M563.2,565 L555.1,566 L555.1,572.4" stroke="#b89090" stroke-width="3.3"/><path d="M555.1,566 L555.1,572.4" stroke="#d40f0f" stroke-width="3.3"/><path d="M574.4,566.8 L580,565.5" stroke="#a9a9a9" stroke-width="3.3"/><path d="M580,565.5 L585.7,564.4" stroke="#d40f0f" stroke-width="3.3"/><path d="M585.7,564.4 L598.5,561.2 L603.3,572.4 L595.3,582.1 L585.7,582.1" stroke="#b89090" stroke-width="3.3"/><path d="M585.7,582.1 L582.4,574 L585.7,564.4" stroke="#d40f0f" stroke-width="3.3"/><path d="M598.5,561.2 L601.7,556.4" stroke="#d40f0f" stroke-width="3.3"/><path d="M603.3,572.4 L613,572.4" stroke="#d40f0f" stroke-width="3.3"/><path d="M585.7,582.1 L580.8,591.7" stroke="#b89090" stroke-width="3.3"/><path d="M571.2,574 L571.9,583" stroke="#a9a9a9" stroke-width="3.3"/><path d="M571.9,583 L571.9,589.5" stroke="#d40f0f" stroke-width="3.3"/><path d="M571.9,589.5 L571.9,594.7" stroke="#a9a9a9" stroke-width="3.3"/><path d="M571.9,594.7 L583.1,600.6 L583.1,606" stroke="#a9a9a9" stroke-width="3.3"/><path d="M583.1,606 L583.1,611.1 L578,616" stroke="#d40f0f" stroke-width="3.3"/><path d="M578,616 L573.9,619.7 L562,615.7 L562,601.3 L571.9,594.7" stroke="#a9a9a9" stroke-width="3.3"/><path d="M562,601.3 L557,599.5" stroke="#a9a9a9" stroke-width="3.3"/><path d="M557,599.5 L552.2,598" stroke="#d40f0f" stroke-width="3.3"/><path d="M583.1,600.6 L588,597" stroke="#b89090" stroke-width="3.3"/><path d="M588,597 L591.6,594.7" stroke="#d40f0f" stroke-width="3.3"/><path d="M573.9,619.7 L574.2,625" stroke="#b89090" stroke-width="3.3"/><path d="M574.2,625 L574.5,631.5" stroke="#d40f0f" stroke-width="3.3"/><path d="M562,615.7 L555.5,620" stroke="#a9a9a9" stroke-width="3.3"/><path d="M555.5,620 L550,624" stroke="#9060c0" stroke-width="3.3"/><path d="M550,624 L546.3,626.9" stroke="#b89090" stroke-width="3.3"/><path d="M546.3,626.9 L543,629" stroke="#d40f0f" stroke-width="3.3"/><path d="M543,629 L537.7,632.8" stroke="#b89090" stroke-width="3.3"/><path d="M531.9,537.9 L543.1,530.7" stroke="#cfcfcf" stroke-width="1.15" stroke-opacity="0.8"/><path d="M543.1,530.7 L543.1,525.5" stroke="#cfcfcf" stroke-width="1.15" stroke-opacity="0.8"/><path d="M543.1,525.5 L543.1,520.3" stroke="#e77b7b" stroke-width="1.15" stroke-opacity="0.8"/><path d="M543.1,530.7 L549.5,534.7" stroke="#b5b5e5" stroke-width="1.15" stroke-opacity="0.8"/><path d="M549.5,534.7 L556,532" stroke="#b5b5e5" stroke-width="1.15" stroke-opacity="0.8"/><path d="M556,532 L563.2,529.1 L568,533.9" stroke="#cfcfcf" stroke-width="1.15" stroke-opacity="0.8"/><path d="M568,533.9 L568.8,543" stroke="#cfcfcf" stroke-width="1.15" stroke-opacity="0.8"/><path d="M568.8,543 L569.2,549" stroke="#e77b7b" stroke-width="1.15" stroke-opacity="0.8"/><path d="M569.2,549 L570.4,553.2" stroke="#cfcfcf" stroke-width="1.15" stroke-opacity="0.8"/><path d="M572,533 L580,529" stroke="#e77b7b" stroke-width="1.15" stroke-opacity="0.8"/><path d="M580,529 L580,522" stroke="#d7c1c1" stroke-width="1.15" stroke-opacity="0.8"/><path d="M580,522 L580,517" stroke="#e77b7b" stroke-width="1.15" stroke-opacity="0.8"/><path d="M580,529 L596.1,529.1" stroke="#d7c1c1" stroke-width="1.15" stroke-opacity="0.8"/><path d="M596.1,529.1 L602.5,535.5" stroke="#e77b7b" stroke-width="1.15" stroke-opacity="0.8"/><path d="M560.8,555.6 L570.4,553.2 L574.4,566.8 L571.2,574 L564.8,572.4 L563.2,562.8 L560.8,555.6" stroke="#cfcfcf" stroke-width="1.15" stroke-opacity="0.8"/><path d="M560.8,555.6 L552,556.4" stroke="#e77b7b" stroke-width="1.15" stroke-opacity="0.8"/><path d="M563.2,565 L555.1,566 L555.1,572.4" stroke="#d7c1c1" stroke-width="1.15" stroke-opacity="0.8"/><path d="M555.1,566 L555.1,572.4" stroke="#e77b7b" stroke-width="1.15" stroke-opacity="0.8"/><path d="M574.4,566.8 L580,565.5" stroke="#cfcfcf" stroke-width="1.15" stroke-opacity="0.8"/><path d="M580,565.5 L585.7,564.4" stroke="#e77b7b" stroke-width="1.15" stroke-opacity="0.8"/><path d="M585.7,564.4 L598.5,561.2 L603.3,572.4 L595.3,582.1 L585.7,582.1" stroke="#d7c1c1" stroke-width="1.15" stroke-opacity="0.8"/><path d="M585.7,582.1 L582.4,574 L585.7,564.4" stroke="#e77b7b" stroke-width="1.15" stroke-opacity="0.8"/><path d="M598.5,561.2 L601.7,556.4" stroke="#e77b7b" stroke-width="1.15" stroke-opacity="0.8"/><path d="M603.3,572.4 L613,572.4" stroke="#e77b7b" stroke-width="1.15" stroke-opacity="0.8"/><path d="M585.7,582.1 L580.8,591.7" stroke="#d7c1c1" stroke-width="1.15" stroke-opacity="0.8"/><path d="M571.2,574 L571.9,583" stroke="#cfcfcf" stroke-width="1.15" stroke-opacity="0.8"/><path d="M571.9,583 L571.9,589.5" stroke="#e77b7b" stroke-width="1.15" stroke-opacity="0.8"/><path d="M571.9,589.5 L571.9,594.7" stroke="#cfcfcf" stroke-width="1.15" stroke-opacity="0.8"/><path d="M571.9,594.7 L583.1,600.6 L583.1,606" stroke="#cfcfcf" stroke-width="1.15" stroke-opacity="0.8"/><path d="M583.1,606 L583.1,611.1 L578,616" stroke="#e77b7b" stroke-width="1.15" stroke-opacity="0.8"/><path d="M578,616 L573.9,619.7 L562,615.7 L562,601.3 L571.9,594.7" stroke="#cfcfcf" stroke-width="1.15" stroke-opacity="0.8"/><path d="M562,601.3 L557,599.5" stroke="#cfcfcf" stroke-width="1.15" stroke-opacity="0.8"/><path d="M557,599.5 L552.2,598" stroke="#e77b7b" stroke-width="1.15" stroke-opacity="0.8"/><path d="M583.1,600.6 L588,597" stroke="#d7c1c1" stroke-width="1.15" stroke-opacity="0.8"/><path d="M588,597 L591.6,594.7" stroke="#e77b7b" stroke-width="1.15" stroke-opacity="0.8"/><path d="M573.9,619.7 L574.2,625" stroke="#d7c1c1" stroke-width="1.15" stroke-opacity="0.8"/><path d="M574.2,625 L574.5,631.5" stroke="#e77b7b" stroke-width="1.15" stroke-opacity="0.8"/><path d="M562,615.7 L555.5,620" stroke="#cfcfcf" stroke-width="1.15" stroke-opacity="0.8"/><path d="M555.5,620 L550,624" stroke="#c1a7dc" stroke-width="1.15" stroke-opacity="0.8"/><path d="M550,624 L546.3,626.9" stroke="#d7c1c1" stroke-width="1.15" stroke-opacity="0.8"/><path d="M546.3,626.9 L543,629" stroke="#e77b7b" stroke-width="1.15" stroke-opacity="0.8"/><path d="M543,629 L537.7,632.8" stroke="#d7c1c1" stroke-width="1.15" stroke-opacity="0.8"/></g>
<circle cx="569.6" cy="563.8" r="4.2" fill="url(#gold)"/>
<rect x="569" y="528.5" width="6" height="6" fill="#d88a10" opacity="0.9"/>
<path d="M584.8,573.3 L591.5,569.8 L591.5,576.8 Z" fill="#a02020"/>
<path d="M569.2,603.6 L577.6,603.2 L577.6,611.6 L569.8,612.2 Z" fill="#1a7090"/>
<path d="M215,585 L234.6,566.1 L234.6,578.2 L274,578.2 L274,591.9 L234.6,591.9 L234.6,604 Z" fill="#82c4bb"/>
<path d="M509.9,585 L490.3,566 L490.3,578.2 L450.9,578.2 L450.9,591.8 L490.3,591.8 L490.3,604.2 Z" fill="#82c4bb"/>
<g fill="none" stroke-linecap="round" stroke-linejoin="round"><path d="M363.4,534.4 C364,531 367,528 370,528.5 C374,529 377,532 380.9,536.7 C379,539 374,540 371.5,539.6 C368,540 364,543 362.8,546" stroke="#1d8b6c" stroke-width="1.2"/><path d="M385,526.8 C387,523 392,522 398.4,523.3 C402,524 404,528 403.6,532 C404,536 406,538 407.7,540.2 C410,543 411,549 408.9,553" stroke="#1d8b6c" stroke-width="1.2"/><path d="M385,526.8 C386,530 388,533 390.8,535.5" stroke="#1d8b6c" stroke-width="1.2"/><path d="M380.9,538.4 C383,539 386,539 390.2,541.4" stroke="#1d8b6c" stroke-width="1.2"/><path d="M359.9,555.4 C361,558 361,561 360.4,564.7" stroke="#1d8b6c" stroke-width="1.2"/><path d="M369.2,557.7 C371,555 375,555 378.5,556.5 C379,559 377,562 371.5,562.4" stroke="#1d8b6c" stroke-width="1.2"/><path d="M405.4,558.9 C406,561 406.6,563 406.6,564.7 C408,567 410,569 414.7,568.2 C416,568 418,569 418.2,569.4 C416,571 414,573 410,574 C407,575 405,576 404,578" stroke="#1d8b6c" stroke-width="1.2"/><path d="M383.2,593.5 C385,597 387,601 389,601.7 C392,603 396,602 398.4,599.4 C399,597 398,594 396,592" stroke="#1d8b6c" stroke-width="1.2"/><path d="M329.4,574.9 C333,571 338,570 344,570.5" stroke="#1d8b6c" stroke-width="1.2"/><path d="M343.5,566.1 C346,564 349,566 351,568" stroke="#1d8b6c" stroke-width="1.2"/><path d="M400,586 C404,582 409,580 414.7,573.7" stroke="#1d8b6c" stroke-width="1.2"/><path d="M362.8,546 C360,549 358,552 359.9,555.4" stroke="#1d8b6c" stroke-width="1.2"/><path d="M390.2,541.4 C392,545 392,548 390,551" stroke="#1d8b6c" stroke-width="1.2"/><path d="M354,552.5 C360,551 366,550 372.7,550.1 C377,551 381,553 384,556" stroke="#106a52" stroke-width="3.96"/><path d="M344.7,568.2 C352,567 362,565 370.4,564.1 C375,566 378,572 380,578 L383.2,588.9" stroke="#106a52" stroke-width="3.96"/><path d="M340,572.5 C350,571 360,570 369.2,569" stroke="#106a52" stroke-width="2.86"/><path d="M391.4,533.2 C396,543 401,553 405.4,562.4 C408,567 410,570 412.4,572.9" stroke="#1d8b6c" stroke-width="4.62"/><path d="M380.9,537.9 C382,547 383,557 384.4,567 C385,571 386,575 386.7,584" stroke="#1d8b6c" stroke-width="4.40"/><path d="M372.7,543.7 C380,550 389,558 396.1,564.7 C398,569 399,573 399.6,577.6" stroke="#106a52" stroke-width="4.18"/><path d="M363.4,547.2 C372,552 385,558 393.7,562.4" stroke="#106a52" stroke-width="3.30"/><path d="M408.9,554.2 L410.1,567" stroke="#1d8b6c" stroke-width="3.52"/><path d="M394.9,557.3 C396,563 397,568 397.2,572.5 C397,580 392,588 385.5,594" stroke="#1d8b6c" stroke-width="4.62"/><path d="M400.7,587.7 L408.9,592.4" stroke="#1d8b6c" stroke-width="3.74"/><path d="M352,547.5 C358,545.5 364,545.5 370,546.5" stroke="#106a52" stroke-width="3.30"/><path d="M356,560 C362,559 368,559 374,559" stroke="#106a52" stroke-width="3.08"/><path d="M388,548 C390,556 392,564 393,572" stroke="#1d8b6c" stroke-width="3.30"/><path d="M400,545 C403,552 405,558 407,565" stroke="#1d8b6c" stroke-width="3.08"/><path d="M347.6,554.2 L355,549.6 L355,556.6 Z" fill="#1d8b6c" stroke="none"/><path d="M390,530 L395.5,531.5 L392.5,537.5 Z" fill="#1d8b6c" stroke="none"/><path d="M410.5,594.5 L404,593 L406,587.5 Z" fill="#1d8b6c" stroke="none"/><path d="M305.3,616 C306,620 307,623 307.9,625.2 C310,629 311,631 312.5,633.1 C313,636 312,638 313.1,639.6 C315,642 317,644 318.4,644.9 C320,647 322,648 324.3,647.5 C327,646 328,645 328.2,643.6 C328,641 327,639 327.6,638.3 C329,635 330,633 331.5,631.8" stroke="#c21a7b" stroke-width="1.2"/><path d="M332.8,627.8 C334,629 335,630 336.8,631.8 C338,634 339,636 340.7,638.3 C343,638 345,637 346,635.7 C347,633 348,631 348.6,630.4" stroke="#c21a7b" stroke-width="1.2"/><path d="M334.2,577.9 C337,577 339,578 340.7,579.2 C342,581 343,583 343.4,584.5 C342,586 341,587 339.4,587.1" stroke="#c21a7b" stroke-width="1.2"/><path d="M355.2,584.5 C358,584 361,585 363.1,585.8 C364,587 365,589 365.7,591" stroke="#c21a7b" stroke-width="1.2"/><path d="M317.1,613.4 C316,615 316,616 315.8,617.3 C317,620 318,622 320,624" stroke="#c21a7b" stroke-width="1.2"/><path d="M323.7,617.3 C325,617 327,618 328.9,618.6" stroke="#c21a7b" stroke-width="1.2"/><path d="M309.2,609.4 C307,611 306,613 305.3,616" stroke="#c21a7b" stroke-width="1.2"/><path d="M374.9,589.7 C376,586 378,583 380,581" stroke="#c21a7b" stroke-width="1.2"/><path d="M343,600 C346,603 349,606 352,607" stroke="#c21a7b" stroke-width="1.2"/><path d="M326,600 C329,603 331,605 333,604" stroke="#c21a7b" stroke-width="1.2"/><path d="M322,598 C326,595 331,596 334,600 C336,603 333,607 330,608" stroke="#c21a7b" stroke-width="1.2"/><path d="M345,600 C350,598 356,600 358,604 C359,607 356,610 352,611" stroke="#c21a7b" stroke-width="1.2"/><path d="M313,620 C316,618 319,619 320,622" stroke="#c21a7b" stroke-width="1.2"/><path d="M319.7,593.6 C321,589 323,586 326.3,584.5 C330,581 333,578 336.8,576.6" stroke="#c21a7b" stroke-width="4.62"/><path d="M309.2,609.4 C310.5,604 312,599 314.5,596.3" stroke="#94145e" stroke-width="4.18"/><path d="M319.7,604.2 C320.5,612 321,620 321.7,627.8" stroke="#c21a7b" stroke-width="4.40"/><path d="M330.2,614.7 C331,619 331.5,623 332.2,627.8" stroke="#94145e" stroke-width="4.18"/><path d="M373.6,589.7 C373.5,597 372.5,603 371,609.4 C368,615 365,619 361.8,622.6 C359,625 356,627 352.6,627.8" stroke="#c21a7b" stroke-width="4.84"/><path d="M365.7,589.7 C364,595 363,600 361.8,604.2 C360,607 359,610 357.8,612" stroke="#94145e" stroke-width="3.52"/><path d="M338.1,592.3 C344,594 350,596 355.2,598.9" stroke="#94145e" stroke-width="3.74"/><path d="M335.5,616 C341,617 347,618.5 353.9,619.9" stroke="#94145e" stroke-width="3.52"/><path d="M325.6,587.1 C329,589 333,591 336.8,593.6" stroke="#94145e" stroke-width="3.52"/><path d="M346,591 C348,594 350,597 351,600" stroke="#94145e" stroke-width="2.86"/><path d="M312,607 C314,598 318,590 324,584" stroke="#c21a7b" stroke-width="3.96"/><path d="M329,592 C335,593 342,595 350,597" stroke="#94145e" stroke-width="3.52"/><path d="M340,605 C345,607 350,609 356,610" stroke="#94145e" stroke-width="3.30"/><path d="M337,614 C338,619 339,624 339.6,629" stroke="#c21a7b" stroke-width="3.74"/><path d="M344.5,616.6 C348,618 351,620 354.5,621.6" stroke="#94145e" stroke-width="3.52"/><path d="M326,622 C328,626 329,629 329.6,632" stroke="#c21a7b" stroke-width="3.30"/></g>
<text x="78.3" y="510.6" font-size="12.6" font-weight="bold" fill="#1a1a1a" textLength="35.6" lengthAdjust="spacingAndGlyphs">3.19%</text>
<text x="43.3" y="620.8" font-size="12.2" fill="#333" textLength="41.3" lengthAdjust="spacing">73.54%</text>
<text x="459.0" y="557.3" font-size="12.6" font-weight="bold" fill="#1a1a1a" textLength="42.7" lengthAdjust="spacingAndGlyphs">19.92%</text>
<text x="195.6" y="518.8" font-size="12.2" textLength="47.5" lengthAdjust="spacingAndGlyphs"><tspan fill="#ebbb4c">Gal</tspan><tspan fill="#555">-</tspan><tspan fill="#3f9dc8">Glc</tspan></text>
<text x="195.6" y="532.3" font-size="12.2" fill="#333" textLength="68" lengthAdjust="spacing">φ = -69.88°</text>
<text x="195.6" y="544.4" font-size="12.2" fill="#333" textLength="71" lengthAdjust="spacing">ψ = -114.62°</text>
<text x="610.6" y="601.8" font-size="12.2" textLength="75" lengthAdjust="spacingAndGlyphs"><tspan fill="#ebbb4c">Gal</tspan><tspan fill="#555">-</tspan><tspan fill="#3f9dc8">GlcNAc</tspan></text>
<text x="610.6" y="614.3" font-size="12.2" fill="#333" textLength="65.6" lengthAdjust="spacing">φ = -65.26°</text>
<text x="610.6" y="627.0" font-size="12.2" fill="#333" textLength="65" lengthAdjust="spacing">ψ = -98.55°</text>
<text x="325.4" y="533.6" font-size="11.8" fill="#333" text-anchor="middle" textLength="29.6" lengthAdjust="spacingAndGlyphs">ACG</text>
<text x="325.4" y="545.6" font-size="11.8" fill="#333" text-anchor="middle" textLength="46.9" lengthAdjust="spacingAndGlyphs">(1WW6)</text>
<line x1="228.7" y1="718.1" x2="228.7" y2="1012.2" stroke="#000" stroke-opacity="0.10" stroke-width="0.9"/>
<line x1="203.9" y1="987.7" x2="501.9" y2="987.7" stroke="#000" stroke-opacity="0.10" stroke-width="0.9"/>
<line x1="270.1" y1="718.1" x2="270.1" y2="1012.2" stroke="#000" stroke-opacity="0.10" stroke-width="0.9"/>
<line x1="203.9" y1="946.8" x2="501.9" y2="946.8" stroke="#000" stroke-opacity="0.10" stroke-width="0.9"/>
<line x1="311.5" y1="718.1" x2="311.5" y2="1012.2" stroke="#000" stroke-opacity="0.10" stroke-width="0.9"/>
<line x1="203.9" y1="906.0" x2="501.9" y2="906.0" stroke="#000" stroke-opacity="0.10" stroke-width="0.9"/>
<line x1="394.3" y1="718.1" x2="394.3" y2="1012.2" stroke="#000" stroke-opacity="0.10" stroke-width="0.9"/>
<line x1="203.9" y1="824.3" x2="501.9" y2="824.3" stroke="#000" stroke-opacity="0.10" stroke-width="0.9"/>
<line x1="435.7" y1="718.1" x2="435.7" y2="1012.2" stroke="#000" stroke-opacity="0.10" stroke-width="0.9"/>
<line x1="203.9" y1="783.5" x2="501.9" y2="783.5" stroke="#000" stroke-opacity="0.10" stroke-width="0.9"/>
<line x1="477.1" y1="718.1" x2="477.1" y2="1012.2" stroke="#000" stroke-opacity="0.10" stroke-width="0.9"/>
<line x1="203.9" y1="742.6" x2="501.9" y2="742.6" stroke="#000" stroke-opacity="0.10" stroke-width="0.9"/>
<line x1="352.9" y1="718.1" x2="352.9" y2="1012.2" stroke="#cfcfcf" stroke-width="1.0" stroke-dasharray="6 3"/>
<line x1="203.9" y1="865.1" x2="501.9" y2="865.1" stroke="#cfcfcf" stroke-width="1.0" stroke-dasharray="6 3"/>
<g stroke="#3a3a3a" stroke-width="0.55"><circle cx="293.1" cy="741.4" r="2.75" fill="#eca58a" fill-opacity="0.85"/><circle cx="287.8" cy="745.2" r="2.75" fill="#eca58a" fill-opacity="0.85"/><circle cx="308.6" cy="744.3" r="2.75" fill="#eca58a" fill-opacity="0.85"/><circle cx="284.3" cy="749.3" r="2.75" fill="#eca58a" fill-opacity="0.85"/><circle cx="283.8" cy="754.2" r="2.75" fill="#eca58a" fill-opacity="0.85"/><circle cx="289" cy="751.6" r="2.75" fill="#eca58a" fill-opacity="0.85"/><circle cx="294.3" cy="754.5" r="2.75" fill="#eca58a" fill-opacity="0.85"/><circle cx="299" cy="752.2" r="2.75" fill="#eca58a" fill-opacity="0.85"/><circle cx="304.2" cy="751" r="2.75" fill="#eca58a" fill-opacity="0.85"/><circle cx="304.8" cy="754.2" r="2.75" fill="#eca58a" fill-opacity="0.85"/><circle cx="298.4" cy="756.3" r="2.75" fill="#eca58a" fill-opacity="0.85"/><circle cx="292.5" cy="757.4" r="2.75" fill="#eca58a" fill-opacity="0.85"/><circle cx="288.4" cy="758" r="2.75" fill="#eca58a" fill-opacity="0.85"/><circle cx="286.4" cy="756.9" r="2.75" fill="#eca58a" fill-opacity="0.85"/><circle cx="283.8" cy="760.7" r="2.75" fill="#eca58a" fill-opacity="0.85"/><circle cx="294.3" cy="745.2" r="2.75" fill="#eca58a" fill-opacity="0.85"/><circle cx="304.2" cy="745.8" r="2.75" fill="#eca58a" fill-opacity="0.85"/><circle cx="273.9" cy="764.9" r="2.75" fill="#eca58a" fill-opacity="0.85"/><circle cx="330.8" cy="734" r="2.75" fill="#eca58a" fill-opacity="0.85"/><circle cx="327.6" cy="751.2" r="2.75" fill="#eca58a" fill-opacity="0.85"/><circle cx="236.5" cy="789.2" r="2.75" fill="#eca58a" fill-opacity="0.85"/><circle cx="384" cy="800.9" r="2.75" fill="#eca58a" fill-opacity="0.85"/><circle cx="275" cy="917.8" r="2.75" fill="#eca58a" fill-opacity="0.85"/><circle cx="296" cy="749" r="2.75" fill="#eca58a" fill-opacity="0.85"/><circle cx="291" cy="753" r="2.75" fill="#eca58a" fill-opacity="0.85"/><circle cx="300" cy="748" r="2.75" fill="#eca58a" fill-opacity="0.85"/><circle cx="286" cy="747" r="2.75" fill="#eca58a" fill-opacity="0.85"/><circle cx="290" cy="744" r="2.75" fill="#eca58a" fill-opacity="0.85"/><circle cx="295" cy="750.5" r="2.75" fill="#eca58a" fill-opacity="0.85"/><circle cx="301" cy="754.5" r="2.75" fill="#eca58a" fill-opacity="0.85"/><circle cx="285.5" cy="752" r="2.75" fill="#eca58a" fill-opacity="0.85"/><circle cx="297" cy="758.5" r="2.75" fill="#eca58a" fill-opacity="0.85"/><circle cx="291" cy="760" r="2.75" fill="#eca58a" fill-opacity="0.85"/><circle cx="287.7" cy="741" r="2.75" fill="#3cbfcf" fill-opacity="0.85"/><circle cx="291.6" cy="748.4" r="2.75" fill="#3cbfcf" fill-opacity="0.85"/><circle cx="298.4" cy="747.2" r="2.75" fill="#3cbfcf" fill-opacity="0.85"/><circle cx="302.4" cy="747.2" r="2.75" fill="#3cbfcf" fill-opacity="0.85"/><circle cx="318.7" cy="727.1" r="2.75" fill="#c9c94e" fill-opacity="0.85"/><circle cx="343.6" cy="779.6" r="2.75" fill="#c9c94e" fill-opacity="0.85"/><circle cx="346.6" cy="777.5" r="2.75" fill="#c9c94e" fill-opacity="0.85"/><circle cx="304.3" cy="925" r="2.75" fill="#9fd6cd" fill-opacity="0.85"/><circle cx="288.2" cy="928" r="2.75" fill="#9fd6cd" fill-opacity="0.85"/><circle cx="291.9" cy="929.5" r="2.75" fill="#9fd6cd" fill-opacity="0.85"/><circle cx="295.5" cy="933.5" r="2.75" fill="#9fd6cd" fill-opacity="0.85"/><circle cx="306.5" cy="934.6" r="2.75" fill="#9fd6cd" fill-opacity="0.85"/><circle cx="306.5" cy="936.8" r="2.75" fill="#9fd6cd" fill-opacity="0.85"/><circle cx="289.7" cy="937.5" r="2.75" fill="#9fd6cd" fill-opacity="0.85"/><circle cx="286.4" cy="942.6" r="2.75" fill="#9fd6cd" fill-opacity="0.85"/><circle cx="312.7" cy="942.3" r="2.75" fill="#9fd6cd" fill-opacity="0.85"/><circle cx="302.8" cy="941.9" r="2.75" fill="#9fd6cd" fill-opacity="0.85"/><circle cx="305.8" cy="947" r="2.75" fill="#9fd6cd" fill-opacity="0.85"/><circle cx="285.3" cy="954.3" r="2.75" fill="#9fd6cd" fill-opacity="0.85"/><circle cx="291.9" cy="954.3" r="2.75" fill="#9fd6cd" fill-opacity="0.85"/><circle cx="296.6" cy="953.2" r="2.75" fill="#9fd6cd" fill-opacity="0.85"/><circle cx="300.3" cy="951" r="2.75" fill="#9fd6cd" fill-opacity="0.85"/><circle cx="306.1" cy="955.8" r="2.75" fill="#9fd6cd" fill-opacity="0.85"/><circle cx="301.4" cy="959.8" r="2.75" fill="#9fd6cd" fill-opacity="0.85"/><circle cx="287.9" cy="959.8" r="2.75" fill="#9fd6cd" fill-opacity="0.85"/><circle cx="236" cy="977.3" r="2.75" fill="#9fd6cd" fill-opacity="0.85"/><circle cx="238.6" cy="980.3" r="2.75" fill="#9fd6cd" fill-opacity="0.85"/><circle cx="242.7" cy="977.7" r="2.75" fill="#9fd6cd" fill-opacity="0.85"/><circle cx="245.2" cy="982.2" r="2.75" fill="#9fd6cd" fill-opacity="0.85"/><circle cx="249.9" cy="979.7" r="2.75" fill="#9fd6cd" fill-opacity="0.85"/><circle cx="250.9" cy="973" r="2.75" fill="#9fd6cd" fill-opacity="0.85"/><circle cx="265.6" cy="980.3" r="2.75" fill="#9fd6cd" fill-opacity="0.85"/><circle cx="276" cy="978.7" r="2.75" fill="#9fd6cd" fill-opacity="0.85"/><circle cx="287.7" cy="981.7" r="2.75" fill="#9fd6cd" fill-opacity="0.85"/><circle cx="261.1" cy="990.3" r="2.75" fill="#9fd6cd" fill-opacity="0.85"/><circle cx="301" cy="937.5" r="2.75" fill="#2a868c" fill-opacity="0.85"/><circle cx="280.6" cy="939.3" r="2.75" fill="#2a868c" fill-opacity="0.85"/><circle cx="280.6" cy="943.7" r="2.75" fill="#2a868c" fill-opacity="0.85"/><circle cx="278.8" cy="952.1" r="2.75" fill="#2a868c" fill-opacity="0.85"/><circle cx="302.1" cy="958" r="2.75" fill="#2a868c" fill-opacity="0.85"/><circle cx="287.5" cy="964.2" r="2.75" fill="#2a868c" fill-opacity="0.85"/><circle cx="323.8" cy="969.5" r="2.75" fill="#2a868c" fill-opacity="0.85"/><circle cx="225.3" cy="979.3" r="2.75" fill="#2a868c" fill-opacity="0.85"/><circle cx="291.9" cy="944.8" r="2.75" fill="#2a868c" fill-opacity="0.85"/><circle cx="295.5" cy="944.1" r="2.75" fill="#2a868c" fill-opacity="0.85"/><circle cx="297.7" cy="945.5" r="2.75" fill="#2a868c" fill-opacity="0.85"/><circle cx="289" cy="947.7" r="2.75" fill="#2a868c" fill-opacity="0.85"/><circle cx="294.1" cy="949.2" r="2.75" fill="#2a868c" fill-opacity="0.85"/><circle cx="297" cy="949.9" r="2.75" fill="#2a868c" fill-opacity="0.85"/><circle cx="285.3" cy="949.2" r="2.75" fill="#2a868c" fill-opacity="0.85"/><circle cx="283.1" cy="948.2" r="2.75" fill="#2a868c" fill-opacity="0.85"/><circle cx="292" cy="946" r="2.75" fill="#2a868c" fill-opacity="0.85"/><circle cx="290" cy="950.5" r="2.75" fill="#2a868c" fill-opacity="0.85"/><circle cx="296" cy="947" r="2.75" fill="#2a868c" fill-opacity="0.85"/><circle cx="288" cy="945" r="2.75" fill="#2a868c" fill-opacity="0.85"/><circle cx="293" cy="947.5" r="2.75" fill="#2a868c" fill-opacity="0.85"/><circle cx="295" cy="946" r="2.75" fill="#2a868c" fill-opacity="0.85"/><circle cx="291" cy="948.5" r="2.75" fill="#2a868c" fill-opacity="0.85"/><circle cx="298" cy="948" r="2.75" fill="#2a868c" fill-opacity="0.85"/><circle cx="302.5" cy="727.1" r="2.75" fill="#a883d6" fill-opacity="0.85"/><circle cx="318.7" cy="929" r="2.75" fill="#a883d6" fill-opacity="0.85"/><circle cx="295.8" cy="969.5" r="2.75" fill="#a883d6" fill-opacity="0.85"/><circle cx="300.5" cy="1002.2" r="2.75" fill="#a883d6" fill-opacity="0.85"/></g>
<rect x="203.90" y="718.09" width="298.01" height="294.12" fill="none" stroke="#333" stroke-width="1.3"/>
<line x1="228.7" y1="1012.2" x2="228.7" y2="1015.2" stroke="#333" stroke-width="0.9"/>
<line x1="200.9" y1="987.7" x2="203.9" y2="987.7" stroke="#333" stroke-width="0.9"/>
<text x="228.7" y="1024.6" font-size="11.2" fill="#333" text-anchor="middle" textLength="26.6" lengthAdjust="spacing">-150</text>
<text x="200.3" y="991.7" font-size="11.2" fill="#333" text-anchor="end" textLength="26.6" lengthAdjust="spacing">-150</text>
<line x1="270.1" y1="1012.2" x2="270.1" y2="1015.2" stroke="#333" stroke-width="0.9"/>
<line x1="200.9" y1="946.8" x2="203.9" y2="946.8" stroke="#333" stroke-width="0.9"/>
<text x="270.1" y="1024.6" font-size="11.2" fill="#333" text-anchor="middle" textLength="26.8" lengthAdjust="spacing">-100</text>
<text x="200.3" y="950.8" font-size="11.2" fill="#333" text-anchor="end" textLength="26.8" lengthAdjust="spacing">-100</text>
<line x1="311.5" y1="1012.2" x2="311.5" y2="1015.2" stroke="#333" stroke-width="0.9"/>
<line x1="200.9" y1="906.0" x2="203.9" y2="906.0" stroke="#333" stroke-width="0.9"/>
<text x="311.5" y="1024.6" font-size="11.2" fill="#333" text-anchor="middle" textLength="18.6" lengthAdjust="spacing">-50</text>
<text x="200.3" y="910.0" font-size="11.2" fill="#333" text-anchor="end" textLength="18.6" lengthAdjust="spacing">-50</text>
<line x1="352.9" y1="1012.2" x2="352.9" y2="1015.2" stroke="#333" stroke-width="0.9"/>
<line x1="200.9" y1="865.1" x2="203.9" y2="865.1" stroke="#333" stroke-width="0.9"/>
<text x="352.9" y="1024.6" font-size="11.2" fill="#333" text-anchor="middle">0</text>
<text x="200.3" y="869.1" font-size="11.2" fill="#333" text-anchor="end">0</text>
<line x1="394.3" y1="1012.2" x2="394.3" y2="1015.2" stroke="#333" stroke-width="0.9"/>
<line x1="200.9" y1="824.3" x2="203.9" y2="824.3" stroke="#333" stroke-width="0.9"/>
<text x="394.3" y="1024.6" font-size="11.2" fill="#333" text-anchor="middle" textLength="14.8" lengthAdjust="spacing">50</text>
<text x="200.3" y="828.3" font-size="11.2" fill="#333" text-anchor="end" textLength="14.8" lengthAdjust="spacing">50</text>
<line x1="435.7" y1="1012.2" x2="435.7" y2="1015.2" stroke="#333" stroke-width="0.9"/>
<line x1="200.9" y1="783.5" x2="203.9" y2="783.5" stroke="#333" stroke-width="0.9"/>
<text x="435.7" y="1024.6" font-size="11.2" fill="#333" text-anchor="middle" textLength="20.6" lengthAdjust="spacing">100</text>
<text x="200.3" y="787.5" font-size="11.2" fill="#333" text-anchor="end" textLength="20.6" lengthAdjust="spacing">100</text>
<line x1="477.1" y1="1012.2" x2="477.1" y2="1015.2" stroke="#333" stroke-width="0.9"/>
<line x1="200.9" y1="742.6" x2="203.9" y2="742.6" stroke="#333" stroke-width="0.9"/>
<text x="477.1" y="1024.6" font-size="11.2" fill="#333" text-anchor="middle" textLength="20.6" lengthAdjust="spacing">150</text>
<text x="200.3" y="746.6" font-size="11.2" fill="#333" text-anchor="end" textLength="20.6" lengthAdjust="spacing">150</text>
<text x="353" y="715.8" font-size="10.8" fill="#222" text-anchor="middle" textLength="250" lengthAdjust="spacing">Torsion angles of lectin-bound Fuc motifs</text>
<text x="352.9" y="1034.3" font-size="11" fill="#333" text-anchor="middle" textLength="33.6" lengthAdjust="spacing">Phi (°)</text>
<text transform="translate(176.8,865.2) rotate(-90)" font-size="11" fill="#333" text-anchor="middle" textLength="29.5" lengthAdjust="spacing">Psi (°)</text>
<rect x="519.4" y="718.5" width="112.1" height="174.3" rx="2.2" fill="#fff" stroke="#d4d4d4" stroke-width="0.9"/>
<circle cx="539.9" cy="732.7" r="5.4" fill="#a7dad4" stroke="#888" stroke-width="0.6"/>
<line x1="566" y1="732.7" x2="595" y2="732.7" stroke="#222" stroke-width="1.3"/>
<path d="M562.4,724.1 L573.2,741.7 L552.4,741.7 Z" fill="#c8323a" stroke="#333" stroke-width="0.7" stroke-linejoin="round"/>
<circle cx="605" cy="732.7" r="10.4" fill="#fbbd1b" stroke="#222" stroke-width="0.8"/>
<text x="584" y="728.5" font-size="8.2" fill="#333" text-anchor="middle">α2</text>
<circle cx="539.9" cy="759.2" r="5.4" fill="#eeb09a" stroke="#888" stroke-width="0.6"/>
<line x1="566" y1="759.2" x2="595" y2="759.2" stroke="#222" stroke-width="1.3"/>
<path d="M562.4,750.6 L573.2,768.2 L552.4,768.2 Z" fill="#c8323a" stroke="#333" stroke-width="0.7" stroke-linejoin="round"/>
<rect x="594.4" y="748.7" width="21" height="21" fill="#0d7aa8" stroke="#222" stroke-width="0.8"/>
<text x="584" y="755.0" font-size="8.2" fill="#333" text-anchor="middle">α3</text>
<circle cx="539.9" cy="791.9" r="5.4" fill="#d1d067" stroke="#888" stroke-width="0.6"/>
<line x1="566" y1="791.9" x2="595" y2="791.9" stroke="#222" stroke-width="1.3"/>
<path d="M562.4,783.3 L573.2,800.9 L552.4,800.9 Z" fill="#c8323a" stroke="#333" stroke-width="0.7" stroke-linejoin="round"/>
<rect x="594.4" y="781.4" width="21" height="21" fill="#0d7aa8" stroke="#222" stroke-width="0.8"/>
<text x="584" y="787.7" font-size="8.2" fill="#333" text-anchor="middle">α3</text>
<text x="605" y="779.4" font-size="6.5" font-weight="bold" fill="#222" text-anchor="middle">6S</text>
<circle cx="539.9" cy="819.4" r="5.4" fill="#5dd3e0" stroke="#888" stroke-width="0.6"/>
<line x1="566" y1="819.4" x2="595" y2="819.4" stroke="#222" stroke-width="1.3"/>
<path d="M562.4,810.8 L573.2,828.4 L552.4,828.4 Z" fill="#c8323a" stroke="#333" stroke-width="0.7" stroke-linejoin="round"/>
<circle cx="605" cy="819.4" r="10.4" fill="#0f7ba5" stroke="#222" stroke-width="0.8"/>
<text x="584" y="815.2" font-size="8.2" fill="#333" text-anchor="middle">α3</text>
<circle cx="539.9" cy="846.4" r="5.4" fill="#4a9598" stroke="#888" stroke-width="0.6"/>
<line x1="566" y1="846.4" x2="595" y2="846.4" stroke="#222" stroke-width="1.3"/>
<path d="M562.4,837.8 L573.2,855.4 L552.4,855.4 Z" fill="#c8323a" stroke="#333" stroke-width="0.7" stroke-linejoin="round"/>
<rect x="594.4" y="835.9" width="21" height="21" fill="#0d7aa8" stroke="#222" stroke-width="0.8"/>
<text x="584" y="842.2" font-size="8.2" fill="#333" text-anchor="middle">α4</text>
<circle cx="539.9" cy="876.7" r="5.4" fill="#b89ad8" stroke="#888" stroke-width="0.6"/>
<line x1="566" y1="876.7" x2="595" y2="876.7" stroke="#222" stroke-width="1.3"/>
<path d="M562.4,868.1 L573.2,885.7 L552.4,885.7 Z" fill="#c8323a" stroke="#333" stroke-width="0.7" stroke-linejoin="round"/>
<rect x="594.4" y="866.2" width="21" height="21" fill="#0d7aa8" stroke="#222" stroke-width="0.8"/>
<text x="584" y="872.5" font-size="8.2" fill="#333" text-anchor="middle">α6</text>
</svg>
</body></html>
